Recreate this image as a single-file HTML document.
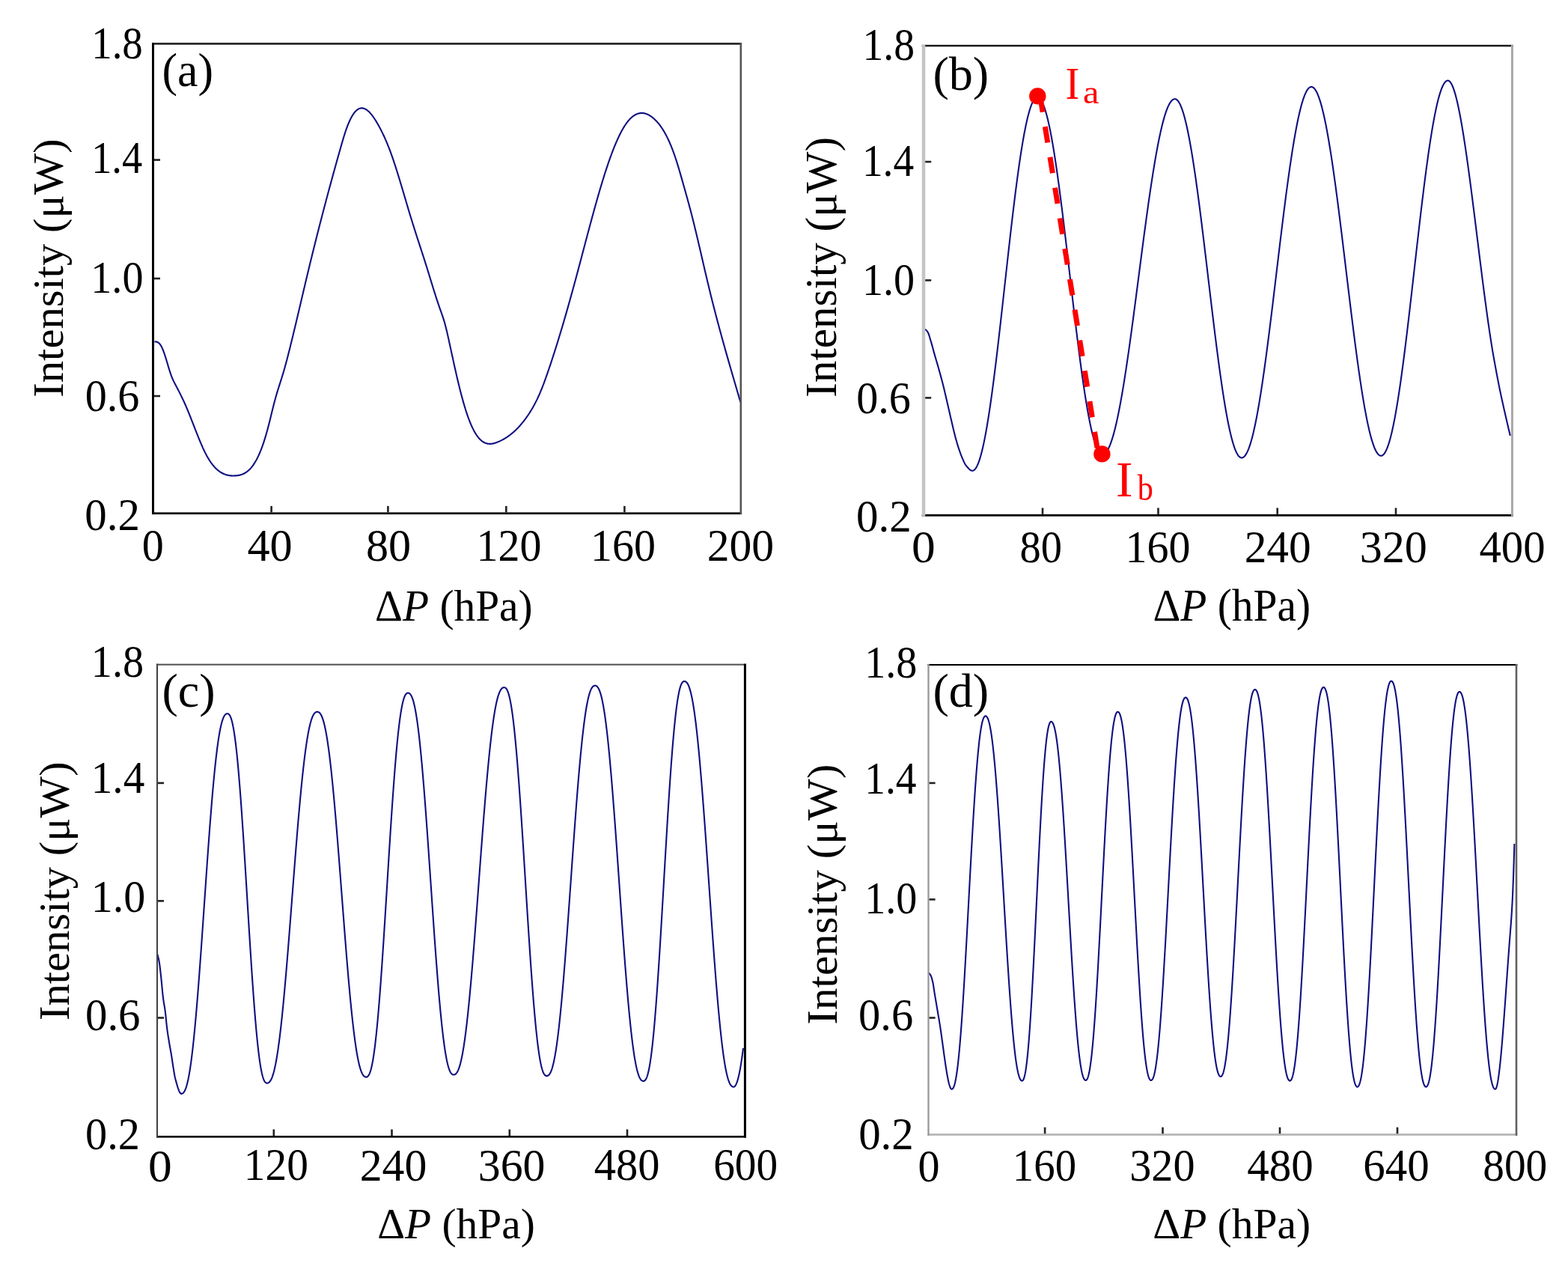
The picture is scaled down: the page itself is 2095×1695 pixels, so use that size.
<!DOCTYPE html>
<html><head><meta charset="utf-8"><title>Intensity vs pressure</title>
<style>html,body{margin:0;padding:0;background:#fff;}svg{display:block;}</style></head>
<body><svg xmlns="http://www.w3.org/2000/svg" width="2095" height="1695" viewBox="0 0 2095 1695">
<rect width="2095" height="1695" fill="#fff"/>
<g font-family="'Liberation Serif', 'Times New Roman', serif" fill="#000">
<text transform="translate(122.17,77.59) scale(0.9154,1.0125)" font-size="60">1.8</text>
<text transform="translate(122.16,231.44) scale(0.9072,1.0125)" font-size="60">1.4</text>
<text transform="translate(121.32,391.39) scale(0.9353,1.0125)" font-size="60">1.0</text>
<text transform="translate(113.66,549.19) scale(0.9690,1.0125)" font-size="60">0.6</text>
<text transform="translate(113.34,707.74) scale(0.9814,1.0125)" font-size="60">0.2</text>
<text transform="translate(189.66,748.59) scale(0.9692,1.0125)" font-size="60">0</text>
<text transform="translate(330.39,748.59) scale(1.0053,1.0125)" font-size="60">40</text>
<text transform="translate(488.99,748.59) scale(1.0036,1.0125)" font-size="60">80</text>
<text transform="translate(636.57,748.59) scale(0.9663,1.0125)" font-size="60">120</text>
<text transform="translate(788.97,748.59) scale(0.9663,1.0125)" font-size="60">160</text>
<text transform="translate(944.72,748.59) scale(0.9941,1.0125)" font-size="60">200</text>
<text transform="translate(216.4,114.73) scale(0.9662,1.0053)" font-size="64">(a)</text>
<text transform="translate(501.09,829) scale(0.9565,1.0000)" font-size="60">&#916;<tspan font-style="italic">P</tspan> (hPa)</text>
<text transform="translate(84.35,530.65) rotate(-90) scale(0.9759,0.9574)" font-size="60">Intensity (&#956;W)</text>
<text transform="translate(1152.46,79.99) scale(0.9279,1.0125)" font-size="60">1.8</text>
<text transform="translate(1151.88,234.94) scale(0.9232,1.0125)" font-size="60">1.4</text>
<text transform="translate(1151.92,393.94) scale(0.9353,1.0125)" font-size="60">1.0</text>
<text transform="translate(1144.26,552.19) scale(0.9690,1.0125)" font-size="60">0.6</text>
<text transform="translate(1144.03,710.49) scale(0.9829,1.0125)" font-size="60">0.2</text>
<text transform="translate(1217.98,751.34) scale(1.0577,1.0125)" font-size="60">0</text>
<text transform="translate(1362.62,751.34) scale(0.9411,1.0125)" font-size="60">80</text>
<text transform="translate(1503.47,751.24) scale(0.9663,1.0125)" font-size="60">160</text>
<text transform="translate(1662.63,751.24) scale(0.9894,1.0125)" font-size="60">240</text>
<text transform="translate(1816.69,751.49) scale(1.0024,1.0125)" font-size="60">320</text>
<text transform="translate(1976.42,751.49) scale(0.9793,1.0125)" font-size="60">400</text>
<text transform="translate(1246.39,119.82) scale(1.0029,0.9828)" font-size="64">(b)</text>
<text transform="translate(1540.39,829.46) scale(0.9569,1.0111)" font-size="60">&#916;<tspan font-style="italic">P</tspan> (hPa)</text>
<text transform="translate(1117.12,530.67) rotate(-90) scale(0.9834,0.9907)" font-size="60">Intensity (&#956;W)</text>
<text transform="translate(1423.48,132.4) scale(0.9118,1.0025)" font-size="62" fill="#f00">I</text>
<text transform="translate(1447,138.4) scale(1.0500,0.9636)" font-size="46" fill="#f00">a</text>
<text transform="translate(1491.02,662.5) scale(1.0882,1.0800)" font-size="62" fill="#f00">I</text>
<text transform="translate(1519.8,667.7) scale(0.9143,1.0424)" font-size="46" fill="#f00">b</text>
<text transform="translate(121.82,904.34) scale(0.9368,1.0125)" font-size="60">1.8</text>
<text transform="translate(121.73,1058.69) scale(0.9536,1.0125)" font-size="60">1.4</text>
<text transform="translate(121.66,1218.24) scale(0.9676,1.0125)" font-size="60">1.0</text>
<text transform="translate(114.04,1376.34) scale(0.9789,1.0125)" font-size="60">0.6</text>
<text transform="translate(114.06,1534.79) scale(0.9714,1.0125)" font-size="60">0.2</text>
<text transform="translate(197.88,1577.54) scale(1.0577,1.0125)" font-size="60">0</text>
<text transform="translate(325.82,1576.39) scale(0.9566,1.0125)" font-size="60">120</text>
<text transform="translate(480.71,1577.04) scale(0.9965,1.0125)" font-size="60">240</text>
<text transform="translate(638.81,1577.04) scale(0.9965,1.0125)" font-size="60">360</text>
<text transform="translate(793.72,1576.34) scale(0.9759,1.0125)" font-size="60">480</text>
<text transform="translate(953.19,1576.34) scale(0.9558,1.0125)" font-size="60">600</text>
<text transform="translate(216.4,944.16) scale(1.0015,0.9877)" font-size="64">(c)</text>
<text transform="translate(504.19,1654.46) scale(0.9565,0.9648)" font-size="60">&#916;<tspan font-style="italic">P</tspan> (hPa)</text>
<text transform="translate(92.45,1363.05) rotate(-90) scale(0.9768,0.9574)" font-size="60">Intensity (&#956;W)</text>
<text transform="translate(1155.22,905.34) scale(0.9368,1.0125)" font-size="60">1.8</text>
<text transform="translate(1155.28,1060.04) scale(0.9232,1.0125)" font-size="60">1.4</text>
<text transform="translate(1155.22,1219.64) scale(0.9368,1.0125)" font-size="60">1.0</text>
<text transform="translate(1147.05,1376.34) scale(0.9746,1.0125)" font-size="60">0.6</text>
<text transform="translate(1147.14,1534.79) scale(0.9814,1.0125)" font-size="60">0.2</text>
<text transform="translate(1226.56,1577.54) scale(0.9692,1.0125)" font-size="60">0</text>
<text transform="translate(1352.87,1577.14) scale(0.9470,1.0125)" font-size="60">160</text>
<text transform="translate(1509.19,1577.04) scale(0.9706,1.0125)" font-size="60">320</text>
<text transform="translate(1666.22,1577.04) scale(0.9828,1.0125)" font-size="60">480</text>
<text transform="translate(1821.23,1576.89) scale(0.9826,1.0125)" font-size="60">640</text>
<text transform="translate(1981.19,1576.89) scale(0.9570,1.0125)" font-size="60">800</text>
<text transform="translate(1246.39,944.22) scale(1.0029,0.9828)" font-size="64">(d)</text>
<text transform="translate(1540.18,1654.46) scale(0.9579,0.9648)" font-size="60">&#916;<tspan font-style="italic">P</tspan> (hPa)</text>
<text transform="translate(1117.78,1368.67) rotate(-90) scale(0.9840,0.9630)" font-size="60">Intensity (&#956;W)</text>
</g>
<g>
<path d="M206.5,456.6 207.0,456.5 207.5,456.5 208.0,456.4 208.5,456.4 209.0,456.5 209.5,456.6 210.0,456.8 210.5,457.0 211.0,457.3 211.5,457.6 212.0,458.0 212.5,458.4 213.0,458.9 213.5,459.5 214.0,460.2 214.5,460.9 215.0,461.7 215.5,462.6 216.0,463.5 216.5,464.5 217.0,465.6 217.5,466.8 218.0,468.0 218.5,469.3 219.0,470.7 219.5,472.1 220.0,473.5 220.5,475.1 221.0,476.6 221.5,478.2 222.0,479.8 222.5,481.5 223.0,483.2 223.5,484.8 224.0,486.5 224.5,488.2 225.0,489.9 225.5,491.6 226.0,493.2 226.5,494.8 227.0,496.4 227.5,497.9 228.0,499.4 228.5,500.8 229.0,502.2 229.5,503.5 230.0,504.7 230.5,505.9 231.0,507.0 231.5,508.1 232.0,509.1 232.5,510.1 233.0,511.1 233.5,512.1 234.0,513.1 234.5,514.0 235.0,514.9 235.5,515.9 236.0,516.8 236.5,517.8 237.0,518.7 237.5,519.7 238.0,520.7 238.5,521.6 239.0,522.6 239.5,523.6 240.0,524.6 240.5,525.6 241.0,526.5 241.5,527.6 242.0,528.6 242.5,529.6 243.0,530.6 243.5,531.7 244.0,532.7 244.5,533.8 245.0,534.8 245.5,535.9 246.0,537.0 246.5,538.1 247.0,539.2 247.5,540.3 248.0,541.5 248.5,542.6 249.0,543.8 249.5,545.0 250.0,546.2 250.5,547.4 251.0,548.6 251.5,549.8 252.0,551.0 252.5,552.2 253.0,553.5 253.5,554.7 254.0,556.0 254.5,557.2 255.0,558.5 255.5,559.8 256.0,561.0 256.5,562.3 257.0,563.6 257.5,564.9 258.0,566.2 258.5,567.5 259.0,568.7 259.5,570.0 260.0,571.3 260.5,572.6 261.0,573.9 261.5,575.1 262.0,576.4 262.5,577.7 263.0,578.9 263.5,580.2 264.0,581.5 264.5,582.7 265.0,583.9 265.5,585.2 266.0,586.4 266.5,587.6 267.0,588.8 267.5,590.0 268.0,591.2 268.5,592.4 269.0,593.5 269.5,594.7 270.0,595.8 270.5,596.9 271.0,598.1 271.5,599.2 272.0,600.2 272.5,601.3 273.0,602.3 273.5,603.4 274.0,604.4 274.5,605.4 275.0,606.4 275.5,607.3 276.0,608.2 276.5,609.2 277.0,610.1 277.5,610.9 278.0,611.8 278.5,612.6 279.0,613.4 279.5,614.3 280.0,615.0 280.5,615.8 281.0,616.5 281.5,617.3 282.0,618.0 282.5,618.7 283.0,619.4 283.5,620.0 284.0,620.7 284.5,621.3 285.0,621.9 285.5,622.5 286.0,623.1 286.5,623.6 287.0,624.2 287.5,624.7 288.0,625.2 288.5,625.7 289.0,626.2 289.5,626.6 290.0,627.1 290.5,627.5 291.0,628.0 291.5,628.4 292.0,628.8 292.5,629.2 293.0,629.5 293.5,629.9 294.0,630.2 294.5,630.6 295.0,630.9 295.5,631.2 296.0,631.5 296.5,631.8 297.0,632.0 297.5,632.3 298.0,632.5 298.5,632.8 299.0,633.0 299.5,633.2 300.0,633.4 300.5,633.6 301.0,633.8 301.5,633.9 302.0,634.1 302.5,634.3 303.0,634.4 303.5,634.5 304.0,634.6 304.5,634.8 305.0,634.9 305.5,635.0 306.0,635.0 306.5,635.1 307.0,635.2 307.5,635.3 308.0,635.3 308.5,635.4 309.0,635.4 309.5,635.4 310.0,635.5 310.5,635.5 311.0,635.5 311.5,635.5 312.0,635.5 312.5,635.5 313.0,635.5 313.5,635.4 314.0,635.4 314.5,635.4 315.0,635.4 315.5,635.3 316.0,635.3 316.5,635.2 317.0,635.2 317.5,635.1 318.0,635.0 318.5,634.9 319.0,634.9 319.5,634.8 320.0,634.7 320.5,634.5 321.0,634.4 321.5,634.3 322.0,634.1 322.5,634.0 323.0,633.8 323.5,633.6 324.0,633.4 324.5,633.2 325.0,633.0 325.5,632.8 326.0,632.5 326.5,632.3 327.0,632.0 327.5,631.7 328.0,631.4 328.5,631.1 329.0,630.7 329.5,630.4 330.0,630.0 330.5,629.6 331.0,629.2 331.5,628.8 332.0,628.4 332.5,627.9 333.0,627.4 333.5,627.0 334.0,626.4 334.5,625.9 335.0,625.4 335.5,624.8 336.0,624.2 336.5,623.6 337.0,622.9 337.5,622.3 338.0,621.6 338.5,620.9 339.0,620.2 339.5,619.4 340.0,618.6 340.5,617.8 341.0,617.0 341.5,616.1 342.0,615.3 342.5,614.4 343.0,613.4 343.5,612.5 344.0,611.5 344.5,610.5 345.0,609.4 345.5,608.4 346.0,607.3 346.5,606.2 347.0,605.0 347.5,603.8 348.0,602.6 348.5,601.4 349.0,600.1 349.5,598.8 350.0,597.4 350.5,596.1 351.0,594.7 351.5,593.2 352.0,591.8 352.5,590.3 353.0,588.7 353.5,587.2 354.0,585.6 354.5,583.9 355.0,582.3 355.5,580.6 356.0,578.8 356.5,577.1 357.0,575.3 357.5,573.4 358.0,571.5 358.5,569.6 359.0,567.7 359.5,565.7 360.0,563.7 360.5,561.7 361.0,559.7 361.5,557.7 362.0,555.7 362.5,553.6 363.0,551.6 363.5,549.5 364.0,547.5 364.5,545.5 365.0,543.5 365.5,541.5 366.0,539.6 366.5,537.6 367.0,535.7 367.5,533.9 368.0,532.0 368.5,530.3 369.0,528.5 369.5,526.8 370.0,525.1 370.5,523.4 371.0,521.8 371.5,520.2 372.0,518.6 372.5,517.0 373.0,515.4 373.5,513.9 374.0,512.3 374.5,510.7 375.0,509.2 375.5,507.6 376.0,506.0 376.5,504.5 377.0,502.8 377.5,501.2 378.0,499.6 378.5,497.9 379.0,496.2 379.5,494.5 380.0,492.7 380.5,491.0 381.0,489.2 381.5,487.3 382.0,485.5 382.5,483.6 383.0,481.8 383.5,479.9 384.0,478.0 384.5,476.0 385.0,474.1 385.5,472.1 386.0,470.1 386.5,468.2 387.0,466.2 387.5,464.2 388.0,462.2 388.5,460.1 389.0,458.1 389.5,456.1 390.0,454.0 390.5,452.0 391.0,449.9 391.5,447.9 392.0,445.8 392.5,443.7 393.0,441.6 393.5,439.5 394.0,437.5 394.5,435.4 395.0,433.3 395.5,431.2 396.0,429.1 396.5,427.0 397.0,424.8 397.5,422.7 398.0,420.6 398.5,418.5 399.0,416.4 399.5,414.2 400.0,412.1 400.5,410.0 401.0,407.9 401.5,405.7 402.0,403.6 402.5,401.5 403.0,399.3 403.5,397.2 404.0,395.1 404.5,393.0 405.0,390.8 405.5,388.7 406.0,386.6 406.5,384.5 407.0,382.4 407.5,380.2 408.0,378.1 408.5,376.0 409.0,373.9 409.5,371.8 410.0,369.7 410.5,367.6 411.0,365.5 411.5,363.4 412.0,361.4 412.5,359.3 413.0,357.2 413.5,355.2 414.0,353.1 414.5,351.0 415.0,349.0 415.5,346.9 416.0,344.9 416.5,342.9 417.0,340.8 417.5,338.8 418.0,336.8 418.5,334.7 419.0,332.7 419.5,330.7 420.0,328.7 420.5,326.7 421.0,324.7 421.5,322.7 422.0,320.7 422.5,318.7 423.0,316.8 423.5,314.8 424.0,312.8 424.5,310.8 425.0,308.9 425.5,306.9 426.0,305.0 426.5,303.0 427.0,301.1 427.5,299.1 428.0,297.2 428.5,295.2 429.0,293.3 429.5,291.4 430.0,289.4 430.5,287.5 431.0,285.6 431.5,283.7 432.0,281.8 432.5,279.9 433.0,278.0 433.5,276.1 434.0,274.2 434.5,272.3 435.0,270.4 435.5,268.5 436.0,266.6 436.5,264.8 437.0,262.9 437.5,261.0 438.0,259.2 438.5,257.3 439.0,255.4 439.5,253.6 440.0,251.7 440.5,249.9 441.0,248.0 441.5,246.2 442.0,244.4 442.5,242.5 443.0,240.7 443.5,238.9 444.0,237.1 444.5,235.2 445.0,233.4 445.5,231.6 446.0,229.8 446.5,228.0 447.0,226.2 447.5,224.4 448.0,222.6 448.5,220.8 449.0,219.0 449.5,217.2 450.0,215.4 450.5,213.6 451.0,211.8 451.5,210.1 452.0,208.3 452.5,206.5 453.0,204.7 453.5,203.0 454.0,201.2 454.5,199.5 455.0,197.7 455.5,195.9 456.0,194.2 456.5,192.4 457.0,190.7 457.5,189.0 458.0,187.3 458.5,185.6 459.0,183.9 459.5,182.3 460.0,180.7 460.5,179.1 461.0,177.5 461.5,176.0 462.0,174.5 462.5,173.1 463.0,171.7 463.5,170.3 464.0,169.0 464.5,167.7 465.0,166.4 465.5,165.2 466.0,164.0 466.5,162.9 467.0,161.8 467.5,160.7 468.0,159.6 468.5,158.6 469.0,157.6 469.5,156.7 470.0,155.8 470.5,154.9 471.0,154.1 471.5,153.3 472.0,152.5 472.5,151.8 473.0,151.1 473.5,150.5 474.0,149.8 474.5,149.3 475.0,148.7 475.5,148.2 476.0,147.7 476.5,147.3 477.0,146.8 477.5,146.5 478.0,146.1 478.5,145.8 479.0,145.5 479.5,145.3 480.0,145.1 480.5,144.9 481.0,144.7 481.5,144.6 482.0,144.5 482.5,144.5 483.0,144.4 483.5,144.4 484.0,144.4 484.5,144.5 485.0,144.6 485.5,144.7 486.0,144.8 486.5,145.0 487.0,145.2 487.5,145.4 488.0,145.6 488.5,145.9 489.0,146.2 489.5,146.5 490.0,146.8 490.5,147.2 491.0,147.6 491.5,148.0 492.0,148.4 492.5,148.8 493.0,149.3 493.5,149.8 494.0,150.3 494.5,150.9 495.0,151.4 495.5,152.0 496.0,152.6 496.5,153.2 497.0,153.8 497.5,154.5 498.0,155.2 498.5,155.8 499.0,156.5 499.5,157.3 500.0,158.0 500.5,158.8 501.0,159.5 501.5,160.3 502.0,161.1 502.5,161.9 503.0,162.7 503.5,163.6 504.0,164.4 504.5,165.3 505.0,166.2 505.5,167.1 506.0,168.0 506.5,168.9 507.0,169.8 507.5,170.7 508.0,171.7 508.5,172.6 509.0,173.6 509.5,174.6 510.0,175.6 510.5,176.6 511.0,177.6 511.5,178.6 512.0,179.7 512.5,180.7 513.0,181.8 513.5,182.9 514.0,184.0 514.5,185.1 515.0,186.2 515.5,187.4 516.0,188.5 516.5,189.7 517.0,190.9 517.5,192.1 518.0,193.3 518.5,194.6 519.0,195.8 519.5,197.1 520.0,198.4 520.5,199.7 521.0,201.0 521.5,202.3 522.0,203.7 522.5,205.1 523.0,206.5 523.5,207.9 524.0,209.3 524.5,210.7 525.0,212.2 525.5,213.7 526.0,215.1 526.5,216.6 527.0,218.2 527.5,219.7 528.0,221.2 528.5,222.8 529.0,224.3 529.5,225.9 530.0,227.5 530.5,229.0 531.0,230.6 531.5,232.2 532.0,233.9 532.5,235.5 533.0,237.1 533.5,238.8 534.0,240.4 534.5,242.0 535.0,243.7 535.5,245.4 536.0,247.0 536.5,248.7 537.0,250.4 537.5,252.1 538.0,253.7 538.5,255.4 539.0,257.1 539.5,258.8 540.0,260.5 540.5,262.2 541.0,263.9 541.5,265.6 542.0,267.3 542.5,269.0 543.0,270.7 543.5,272.3 544.0,274.0 544.5,275.7 545.0,277.4 545.5,279.1 546.0,280.7 546.5,282.4 547.0,284.1 547.5,285.7 548.0,287.4 548.5,289.0 549.0,290.7 549.5,292.3 550.0,293.9 550.5,295.5 551.0,297.2 551.5,298.8 552.0,300.4 552.5,301.9 553.0,303.5 553.5,305.1 554.0,306.7 554.5,308.2 555.0,309.8 555.5,311.4 556.0,312.9 556.5,314.5 557.0,316.0 557.5,317.6 558.0,319.1 558.5,320.6 559.0,322.2 559.5,323.7 560.0,325.2 560.5,326.8 561.0,328.3 561.5,329.9 562.0,331.4 562.5,332.9 563.0,334.5 563.5,336.0 564.0,337.5 564.5,339.1 565.0,340.6 565.5,342.2 566.0,343.7 566.5,345.3 567.0,346.8 567.5,348.4 568.0,350.0 568.5,351.6 569.0,353.1 569.5,354.7 570.0,356.3 570.5,357.9 571.0,359.5 571.5,361.1 572.0,362.7 572.5,364.4 573.0,366.0 573.5,367.6 574.0,369.2 574.5,370.9 575.0,372.5 575.5,374.1 576.0,375.8 576.5,377.4 577.0,379.0 577.5,380.6 578.0,382.3 578.5,383.9 579.0,385.5 579.5,387.1 580.0,388.7 580.5,390.3 581.0,391.9 581.5,393.4 582.0,395.0 582.5,396.6 583.0,398.1 583.5,399.7 584.0,401.2 584.5,402.7 585.0,404.2 585.5,405.7 586.0,407.2 586.5,408.6 587.0,410.1 587.5,411.5 588.0,412.9 588.5,414.3 589.0,415.7 589.5,417.1 590.0,418.5 590.5,419.9 591.0,421.3 591.5,422.8 592.0,424.3 592.5,425.8 593.0,427.4 593.5,429.1 594.0,430.8 594.5,432.6 595.0,434.5 595.5,436.4 596.0,438.4 596.5,440.5 597.0,442.6 597.5,444.7 598.0,446.9 598.5,449.1 599.0,451.4 599.5,453.6 600.0,455.9 600.5,458.2 601.0,460.5 601.5,462.8 602.0,465.1 602.5,467.4 603.0,469.7 603.5,472.0 604.0,474.3 604.5,476.5 605.0,478.8 605.5,481.1 606.0,483.4 606.5,485.7 607.0,487.9 607.5,490.2 608.0,492.4 608.5,494.6 609.0,496.9 609.5,499.0 610.0,501.2 610.5,503.4 611.0,505.5 611.5,507.7 612.0,509.8 612.5,511.8 613.0,513.9 613.5,515.9 614.0,518.0 614.5,520.0 615.0,521.9 615.5,523.9 616.0,525.8 616.5,527.7 617.0,529.6 617.5,531.4 618.0,533.3 618.5,535.1 619.0,536.9 619.5,538.6 620.0,540.3 620.5,542.0 621.0,543.7 621.5,545.3 622.0,547.0 622.5,548.5 623.0,550.1 623.5,551.6 624.0,553.1 624.5,554.6 625.0,556.0 625.5,557.4 626.0,558.8 626.5,560.1 627.0,561.4 627.5,562.7 628.0,564.0 628.5,565.2 629.0,566.4 629.5,567.5 630.0,568.7 630.5,569.8 631.0,570.8 631.5,571.9 632.0,572.9 632.5,573.9 633.0,574.9 633.5,575.8 634.0,576.7 634.5,577.6 635.0,578.4 635.5,579.2 636.0,580.0 636.5,580.8 637.0,581.5 637.5,582.2 638.0,582.9 638.5,583.6 639.0,584.2 639.5,584.8 640.0,585.4 640.5,586.0 641.0,586.5 641.5,587.0 642.0,587.5 642.5,587.9 643.0,588.4 643.5,588.8 644.0,589.2 644.5,589.6 645.0,589.9 645.5,590.2 646.0,590.5 646.5,590.8 647.0,591.1 647.5,591.3 648.0,591.5 648.5,591.8 649.0,591.9 649.5,592.1 650.0,592.3 650.5,592.4 651.0,592.5 651.5,592.6 652.0,592.7 652.5,592.8 653.0,592.8 653.5,592.8 654.0,592.9 654.5,592.9 655.0,592.9 655.5,592.9 656.0,592.8 656.5,592.8 657.0,592.7 657.5,592.6 658.0,592.6 658.5,592.5 659.0,592.4 659.5,592.3 660.0,592.1 660.5,592.0 661.0,591.9 661.5,591.7 662.0,591.5 662.5,591.4 663.0,591.2 663.5,591.0 664.0,590.8 664.5,590.6 665.0,590.4 665.5,590.2 666.0,590.0 666.5,589.8 667.0,589.6 667.5,589.4 668.0,589.1 668.5,588.9 669.0,588.6 669.5,588.4 670.0,588.1 670.5,587.9 671.0,587.6 671.5,587.4 672.0,587.1 672.5,586.8 673.0,586.5 673.5,586.2 674.0,586.0 674.5,585.7 675.0,585.4 675.5,585.0 676.0,584.7 676.5,584.4 677.0,584.1 677.5,583.8 678.0,583.4 678.5,583.1 679.0,582.7 679.5,582.4 680.0,582.0 680.5,581.6 681.0,581.3 681.5,580.9 682.0,580.5 682.5,580.1 683.0,579.7 683.5,579.3 684.0,578.9 684.5,578.5 685.0,578.1 685.5,577.6 686.0,577.2 686.5,576.8 687.0,576.3 687.5,575.9 688.0,575.4 688.5,574.9 689.0,574.4 689.5,574.0 690.0,573.5 690.5,573.0 691.0,572.5 691.5,572.0 692.0,571.4 692.5,570.9 693.0,570.4 693.5,569.8 694.0,569.3 694.5,568.7 695.0,568.2 695.5,567.6 696.0,567.0 696.5,566.4 697.0,565.8 697.5,565.2 698.0,564.6 698.5,564.0 699.0,563.4 699.5,562.8 700.0,562.1 700.5,561.5 701.0,560.8 701.5,560.2 702.0,559.5 702.5,558.8 703.0,558.1 703.5,557.4 704.0,556.7 704.5,556.0 705.0,555.3 705.5,554.5 706.0,553.8 706.5,553.0 707.0,552.3 707.5,551.5 708.0,550.7 708.5,549.9 709.0,549.1 709.5,548.3 710.0,547.5 710.5,546.7 711.0,545.8 711.5,545.0 712.0,544.1 712.5,543.2 713.0,542.3 713.5,541.4 714.0,540.5 714.5,539.5 715.0,538.6 715.5,537.6 716.0,536.6 716.5,535.6 717.0,534.6 717.5,533.6 718.0,532.6 718.5,531.5 719.0,530.4 719.5,529.3 720.0,528.2 720.5,527.1 721.0,526.0 721.5,524.8 722.0,523.6 722.5,522.4 723.0,521.2 723.5,520.0 724.0,518.7 724.5,517.5 725.0,516.2 725.5,514.9 726.0,513.6 726.5,512.3 727.0,510.9 727.5,509.6 728.0,508.2 728.5,506.8 729.0,505.4 729.5,504.0 730.0,502.6 730.5,501.2 731.0,499.8 731.5,498.3 732.0,496.9 732.5,495.4 733.0,494.0 733.5,492.5 734.0,491.0 734.5,489.6 735.0,488.1 735.5,486.6 736.0,485.1 736.5,483.6 737.0,482.1 737.5,480.5 738.0,479.0 738.5,477.5 739.0,475.9 739.5,474.4 740.0,472.8 740.5,471.3 741.0,469.7 741.5,468.2 742.0,466.6 742.5,465.0 743.0,463.4 743.5,461.8 744.0,460.2 744.5,458.6 745.0,457.0 745.5,455.4 746.0,453.8 746.5,452.1 747.0,450.5 747.5,448.8 748.0,447.2 748.5,445.5 749.0,443.9 749.5,442.2 750.0,440.6 750.5,438.9 751.0,437.2 751.5,435.5 752.0,433.8 752.5,432.1 753.0,430.4 753.5,428.7 754.0,427.0 754.5,425.3 755.0,423.6 755.5,421.8 756.0,420.1 756.5,418.4 757.0,416.6 757.5,414.9 758.0,413.1 758.5,411.4 759.0,409.6 759.5,407.8 760.0,406.1 760.5,404.3 761.0,402.5 761.5,400.7 762.0,398.9 762.5,397.1 763.0,395.3 763.5,393.5 764.0,391.7 764.5,389.9 765.0,388.1 765.5,386.3 766.0,384.5 766.5,382.6 767.0,380.8 767.5,379.0 768.0,377.1 768.5,375.3 769.0,373.4 769.5,371.6 770.0,369.7 770.5,367.8 771.0,366.0 771.5,364.1 772.0,362.2 772.5,360.4 773.0,358.5 773.5,356.6 774.0,354.7 774.5,352.9 775.0,351.0 775.5,349.1 776.0,347.2 776.5,345.3 777.0,343.4 777.5,341.5 778.0,339.6 778.5,337.7 779.0,335.9 779.5,334.0 780.0,332.1 780.5,330.2 781.0,328.3 781.5,326.4 782.0,324.5 782.5,322.6 783.0,320.7 783.5,318.8 784.0,317.0 784.5,315.1 785.0,313.2 785.5,311.3 786.0,309.4 786.5,307.6 787.0,305.7 787.5,303.8 788.0,302.0 788.5,300.1 789.0,298.3 789.5,296.4 790.0,294.6 790.5,292.7 791.0,290.9 791.5,289.0 792.0,287.2 792.5,285.4 793.0,283.6 793.5,281.7 794.0,279.9 794.5,278.1 795.0,276.3 795.5,274.5 796.0,272.8 796.5,271.0 797.0,269.2 797.5,267.4 798.0,265.7 798.5,263.9 799.0,262.2 799.5,260.4 800.0,258.7 800.5,257.0 801.0,255.3 801.5,253.6 802.0,251.9 802.5,250.2 803.0,248.5 803.5,246.9 804.0,245.2 804.5,243.6 805.0,241.9 805.5,240.3 806.0,238.7 806.5,237.1 807.0,235.5 807.5,233.9 808.0,232.3 808.5,230.7 809.0,229.2 809.5,227.6 810.0,226.1 810.5,224.6 811.0,223.1 811.5,221.6 812.0,220.1 812.5,218.6 813.0,217.2 813.5,215.7 814.0,214.3 814.5,212.9 815.0,211.5 815.5,210.1 816.0,208.7 816.5,207.4 817.0,206.0 817.5,204.7 818.0,203.3 818.5,202.0 819.0,200.7 819.5,199.5 820.0,198.2 820.5,196.9 821.0,195.7 821.5,194.5 822.0,193.3 822.5,192.1 823.0,190.9 823.5,189.7 824.0,188.6 824.5,187.5 825.0,186.3 825.5,185.2 826.0,184.2 826.5,183.1 827.0,182.0 827.5,181.0 828.0,180.0 828.5,179.0 829.0,178.0 829.5,177.0 830.0,176.1 830.5,175.1 831.0,174.2 831.5,173.3 832.0,172.4 832.5,171.6 833.0,170.7 833.5,169.9 834.0,169.1 834.5,168.3 835.0,167.5 835.5,166.8 836.0,166.0 836.5,165.3 837.0,164.6 837.5,163.9 838.0,163.3 838.5,162.6 839.0,162.0 839.5,161.4 840.0,160.8 840.5,160.2 841.0,159.7 841.5,159.1 842.0,158.6 842.5,158.1 843.0,157.6 843.5,157.2 844.0,156.7 844.5,156.3 845.0,155.9 845.5,155.5 846.0,155.1 846.5,154.8 847.0,154.4 847.5,154.1 848.0,153.8 848.5,153.5 849.0,153.2 849.5,153.0 850.0,152.7 850.5,152.5 851.0,152.3 851.5,152.1 852.0,151.9 852.5,151.7 853.0,151.6 853.5,151.5 854.0,151.4 854.5,151.3 855.0,151.2 855.5,151.1 856.0,151.1 856.5,151.0 857.0,151.0 857.5,151.0 858.0,151.0 858.5,151.0 859.0,151.1 859.5,151.1 860.0,151.2 860.5,151.3 861.0,151.4 861.5,151.5 862.0,151.6 862.5,151.8 863.0,151.9 863.5,152.1 864.0,152.3 864.5,152.5 865.0,152.7 865.5,152.9 866.0,153.2 866.5,153.4 867.0,153.7 867.5,154.0 868.0,154.3 868.5,154.6 869.0,154.9 869.5,155.2 870.0,155.6 870.5,155.9 871.0,156.3 871.5,156.7 872.0,157.1 872.5,157.5 873.0,157.9 873.5,158.3 874.0,158.8 874.5,159.2 875.0,159.7 875.5,160.2 876.0,160.7 876.5,161.2 877.0,161.7 877.5,162.2 878.0,162.8 878.5,163.4 879.0,163.9 879.5,164.5 880.0,165.1 880.5,165.7 881.0,166.4 881.5,167.0 882.0,167.7 882.5,168.4 883.0,169.1 883.5,169.8 884.0,170.5 884.5,171.3 885.0,172.0 885.5,172.8 886.0,173.6 886.5,174.4 887.0,175.3 887.5,176.1 888.0,177.0 888.5,177.9 889.0,178.8 889.5,179.7 890.0,180.6 890.5,181.6 891.0,182.6 891.5,183.6 892.0,184.6 892.5,185.6 893.0,186.7 893.5,187.8 894.0,188.9 894.5,190.0 895.0,191.1 895.5,192.3 896.0,193.5 896.5,194.7 897.0,195.9 897.5,197.2 898.0,198.5 898.5,199.7 899.0,201.1 899.5,202.4 900.0,203.8 900.5,205.2 901.0,206.6 901.5,208.0 902.0,209.5 902.5,211.0 903.0,212.5 903.5,214.0 904.0,215.6 904.5,217.1 905.0,218.7 905.5,220.4 906.0,222.0 906.5,223.6 907.0,225.3 907.5,227.0 908.0,228.7 908.5,230.4 909.0,232.1 909.5,233.9 910.0,235.6 910.5,237.4 911.0,239.1 911.5,240.9 912.0,242.6 912.5,244.4 913.0,246.2 913.5,248.0 914.0,249.8 914.5,251.5 915.0,253.3 915.5,255.1 916.0,256.9 916.5,258.7 917.0,260.4 917.5,262.2 918.0,264.0 918.5,265.8 919.0,267.7 919.5,269.5 920.0,271.3 920.5,273.1 921.0,275.0 921.5,276.9 922.0,278.7 922.5,280.6 923.0,282.5 923.5,284.4 924.0,286.3 924.5,288.3 925.0,290.3 925.5,292.2 926.0,294.2 926.5,296.2 927.0,298.2 927.5,300.3 928.0,302.3 928.5,304.4 929.0,306.4 929.5,308.5 930.0,310.6 930.5,312.7 931.0,314.8 931.5,316.9 932.0,319.0 932.5,321.1 933.0,323.3 933.5,325.4 934.0,327.5 934.5,329.7 935.0,331.8 935.5,334.0 936.0,336.1 936.5,338.3 937.0,340.5 937.5,342.6 938.0,344.8 938.5,347.0 939.0,349.1 939.5,351.3 940.0,353.4 940.5,355.6 941.0,357.7 941.5,359.9 942.0,362.0 942.5,364.2 943.0,366.3 943.5,368.5 944.0,370.6 944.5,372.7 945.0,374.8 945.5,376.9 946.0,379.0 946.5,381.1 947.0,383.1 947.5,385.2 948.0,387.3 948.5,389.3 949.0,391.3 949.5,393.4 950.0,395.4 950.5,397.4 951.0,399.4 951.5,401.4 952.0,403.4 952.5,405.4 953.0,407.3 953.5,409.3 954.0,411.2 954.5,413.2 955.0,415.1 955.5,417.0 956.0,419.0 956.5,420.9 957.0,422.8 957.5,424.7 958.0,426.6 958.5,428.5 959.0,430.4 959.5,432.2 960.0,434.1 960.5,436.0 961.0,437.8 961.5,439.7 962.0,441.5 962.5,443.3 963.0,445.2 963.5,447.0 964.0,448.8 964.5,450.6 965.0,452.5 965.5,454.3 966.0,456.1 966.5,457.9 967.0,459.7 967.5,461.4 968.0,463.2 968.5,465.0 969.0,466.8 969.5,468.6 970.0,470.3 970.5,472.1 971.0,473.9 971.5,475.6 972.0,477.4 972.5,479.1 973.0,480.9 973.5,482.6 974.0,484.4 974.5,486.1 975.0,487.8 975.5,489.6 976.0,491.3 976.5,493.0 977.0,494.8 977.5,496.5 978.0,498.2 978.5,499.9 979.0,501.7 979.5,503.4 980.0,505.1 980.5,506.8 981.0,508.5 981.5,510.3 982.0,512.0 982.5,513.7 983.0,515.4 983.5,517.1 984.0,518.8 984.5,520.5 985.0,522.3 985.5,524.0 986.0,525.7 986.5,527.4 987.0,529.1 987.5,530.8 988.0,532.6 988.5,534.3 989.0,536.0 989.4,537.3" fill="none" stroke="#0f0f80" stroke-width="2.1" stroke-linejoin="round"/>
<path d="M1235.5,440.0 1236.0,440.1 1236.5,440.3 1237.0,440.6 1237.5,441.1 1238.0,441.6 1238.5,442.2 1239.0,442.8 1239.5,443.5 1240.0,444.3 1240.5,445.5 1241.0,446.8 1241.5,448.3 1242.0,450.0 1242.5,451.7 1243.0,453.4 1243.5,455.0 1244.0,456.6 1244.5,458.3 1245.0,460.1 1245.5,461.9 1246.0,463.7 1246.5,465.6 1247.0,467.4 1247.5,469.3 1248.0,471.1 1248.5,472.9 1249.0,474.7 1249.5,476.4 1250.0,478.1 1250.5,479.8 1251.0,481.5 1251.5,483.2 1252.0,484.9 1252.5,486.6 1253.0,488.3 1253.5,490.0 1254.0,491.8 1254.5,493.6 1255.0,495.4 1255.5,497.1 1256.0,499.0 1256.5,500.8 1257.0,502.6 1257.5,504.4 1258.0,506.3 1258.5,508.2 1259.0,510.1 1259.5,512.0 1260.0,514.0 1260.5,516.0 1261.0,518.0 1261.5,520.1 1262.0,522.2 1262.5,524.3 1263.0,526.5 1263.5,528.6 1264.0,530.8 1264.5,532.9 1265.0,535.1 1265.5,537.2 1266.0,539.4 1266.5,541.6 1267.0,543.8 1267.5,545.9 1268.0,548.1 1268.5,550.3 1269.0,552.5 1269.5,554.7 1270.0,556.9 1270.5,559.0 1271.0,561.1 1271.5,563.3 1272.0,565.5 1272.5,567.6 1273.0,569.8 1273.5,571.9 1274.0,574.0 1274.5,576.1 1275.0,578.1 1275.5,580.1 1276.0,582.0 1276.5,583.9 1277.0,585.7 1277.5,587.5 1278.0,589.3 1278.5,591.0 1279.0,592.7 1279.5,594.4 1280.0,596.0 1280.5,597.6 1281.0,599.1 1281.5,600.6 1282.0,602.1 1282.5,603.5 1283.0,604.9 1283.5,606.3 1284.0,607.6 1284.5,608.9 1285.0,610.1 1285.5,611.3 1286.0,612.5 1286.5,613.6 1287.0,614.8 1287.5,615.9 1288.0,617.1 1288.5,618.1 1289.0,619.1 1289.5,620.0 1290.0,620.8 1290.5,621.5 1291.0,622.1 1291.5,622.7 1292.0,623.3 1292.5,623.9 1293.0,624.5 1293.5,625.1 1294.0,625.6 1294.5,626.2 1295.0,626.6 1295.5,627.1 1296.0,627.5 1296.5,627.8 1297.0,628.1 1297.5,628.4 1298.0,628.6 1298.5,628.7 1299.0,628.8 1299.2,628.8 1299.7,628.8 1300.2,628.6 1300.7,628.4 1301.2,628.1 1301.7,627.8 1302.2,627.3 1302.7,626.8 1303.2,626.2 1303.7,625.5 1304.2,624.7 1304.7,623.9 1305.2,622.9 1305.7,621.9 1306.2,620.8 1306.7,619.7 1307.2,618.4 1307.7,617.1 1308.2,615.7 1308.7,614.2 1309.2,612.6 1309.7,611.0 1310.2,609.3 1310.7,607.5 1311.2,605.6 1311.7,603.7 1312.2,601.7 1312.7,599.6 1313.2,597.5 1313.7,595.2 1314.2,592.9 1314.7,590.6 1315.2,588.1 1315.7,585.6 1316.2,583.1 1316.7,580.4 1317.2,577.7 1317.7,575.0 1318.2,572.1 1318.7,569.2 1319.2,566.3 1319.7,563.2 1320.2,560.2 1320.7,557.0 1321.2,553.8 1321.7,550.6 1322.2,547.3 1322.7,543.9 1323.2,540.5 1323.7,537.0 1324.2,533.5 1324.7,529.9 1325.2,526.3 1325.7,522.6 1326.2,518.9 1326.7,515.1 1327.2,511.3 1327.7,507.5 1328.2,503.6 1328.7,499.6 1329.2,495.7 1329.7,491.7 1330.2,487.6 1330.7,483.5 1331.2,479.4 1331.7,475.3 1332.2,471.1 1332.7,466.9 1333.2,462.6 1333.7,458.4 1334.2,454.1 1334.7,449.7 1335.2,445.4 1335.7,441.0 1336.2,436.7 1336.7,432.3 1337.2,427.8 1337.7,423.4 1338.2,418.9 1338.7,414.5 1339.2,410.0 1339.7,405.5 1340.2,401.0 1340.7,396.5 1341.2,392.0 1341.7,387.5 1342.2,383.0 1342.7,378.5 1343.2,374.0 1343.7,369.5 1344.2,365.0 1344.7,360.5 1345.2,356.0 1345.7,351.5 1346.2,347.0 1346.7,342.5 1347.2,338.1 1347.7,333.6 1348.2,329.2 1348.7,324.8 1349.2,320.4 1349.7,316.0 1350.2,311.7 1350.7,307.3 1351.2,303.0 1351.7,298.7 1352.2,294.5 1352.7,290.2 1353.2,286.0 1353.7,281.9 1354.2,277.7 1354.7,273.6 1355.2,269.6 1355.7,265.5 1356.2,261.5 1356.7,257.6 1357.2,253.7 1357.7,249.8 1358.2,245.9 1358.7,242.2 1359.2,238.4 1359.7,234.7 1360.2,231.1 1360.7,227.5 1361.2,223.9 1361.7,220.4 1362.2,216.9 1362.7,213.5 1363.2,210.2 1363.7,206.9 1364.2,203.7 1364.7,200.5 1365.2,197.4 1365.7,194.3 1366.2,191.3 1366.7,188.4 1367.2,185.5 1367.7,182.7 1368.2,180.0 1368.7,177.3 1369.2,174.7 1369.7,172.2 1370.2,169.7 1370.7,167.3 1371.2,164.9 1371.7,162.7 1372.2,160.5 1372.7,158.3 1373.2,156.3 1373.7,154.3 1374.2,152.4 1374.7,150.6 1375.2,148.8 1375.7,147.1 1376.2,145.5 1376.7,144.0 1377.2,142.5 1377.7,141.2 1378.2,139.9 1378.7,138.7 1379.2,137.5 1379.7,136.5 1380.2,135.5 1380.7,134.6 1381.2,133.8 1381.7,133.0 1382.2,132.4 1382.7,131.8 1383.2,131.3 1383.7,130.9 1384.2,130.5 1384.7,130.3 1385.2,130.1 1385.7,130.0 1386.0,130.0 1386.5,130.0 1387.0,130.2 1387.5,130.3 1388.0,130.6 1388.5,131.0 1389.0,131.4 1389.5,131.9 1390.0,132.5 1390.5,133.1 1391.0,133.9 1391.5,134.7 1392.0,135.6 1392.5,136.5 1393.0,137.6 1393.5,138.7 1394.0,139.9 1394.5,141.1 1395.0,142.5 1395.5,143.9 1396.0,145.4 1396.5,146.9 1397.0,148.6 1397.5,150.3 1398.0,152.0 1398.5,153.9 1399.0,155.8 1399.5,157.8 1400.0,159.8 1400.5,162.0 1401.0,164.1 1401.5,166.4 1402.0,168.7 1402.5,171.1 1403.0,173.5 1403.5,176.1 1404.0,178.6 1404.5,181.3 1405.0,184.0 1405.5,186.7 1406.0,189.5 1406.5,192.4 1407.0,195.4 1407.5,198.3 1408.0,201.4 1408.5,204.5 1409.0,207.6 1409.5,210.8 1410.0,214.1 1410.5,217.4 1411.0,220.8 1411.5,224.2 1412.0,227.6 1412.5,231.1 1413.0,234.7 1413.5,238.2 1414.0,241.9 1414.5,245.5 1415.0,249.2 1415.5,253.0 1416.0,256.8 1416.5,260.6 1417.0,264.5 1417.5,268.4 1418.0,272.3 1418.5,276.2 1419.0,280.2 1419.5,284.2 1420.0,288.3 1420.5,292.3 1421.0,296.4 1421.5,300.6 1422.0,304.7 1422.5,308.9 1423.0,313.0 1423.5,317.2 1424.0,321.4 1424.5,325.7 1425.0,329.9 1425.5,334.2 1426.0,338.4 1426.5,342.7 1427.0,347.0 1427.5,351.3 1428.0,355.6 1428.5,359.9 1429.0,364.2 1429.5,368.5 1430.0,372.8 1430.5,377.1 1431.0,381.4 1431.5,385.7 1432.0,390.0 1432.5,394.3 1433.0,398.6 1433.5,402.8 1434.0,407.1 1434.5,411.3 1435.0,415.6 1435.5,419.8 1436.0,424.0 1436.5,428.1 1437.0,432.3 1437.5,436.4 1438.0,440.6 1438.5,444.7 1439.0,448.7 1439.5,452.8 1440.0,456.8 1440.5,460.8 1441.0,464.7 1441.5,468.6 1442.0,472.5 1442.5,476.4 1443.0,480.2 1443.5,484.0 1444.0,487.7 1444.5,491.5 1445.0,495.1 1445.5,498.8 1446.0,502.3 1446.5,505.9 1447.0,509.4 1447.5,512.8 1448.0,516.2 1448.5,519.6 1449.0,522.9 1449.5,526.2 1450.0,529.4 1450.5,532.5 1451.0,535.6 1451.5,538.7 1452.0,541.6 1452.5,544.6 1453.0,547.5 1453.5,550.3 1454.0,553.0 1454.5,555.7 1455.0,558.4 1455.5,560.9 1456.0,563.5 1456.5,565.9 1457.0,568.3 1457.5,570.6 1458.0,572.9 1458.5,575.0 1459.0,577.2 1459.5,579.2 1460.0,581.2 1460.5,583.1 1461.0,585.0 1461.5,586.7 1462.0,588.4 1462.5,590.1 1463.0,591.6 1463.5,593.1 1464.0,594.5 1464.5,595.9 1465.0,597.1 1465.5,598.3 1466.0,599.4 1466.5,600.5 1467.0,601.4 1467.5,602.3 1468.0,603.1 1468.5,603.9 1469.0,604.5 1469.5,605.1 1470.0,605.6 1470.5,606.0 1471.0,606.4 1471.5,606.7 1472.0,606.8 1472.5,607.0 1473.0,607.0 1473.5,607.0 1474.0,606.9 1474.5,606.7 1475.0,606.5 1475.5,606.2 1476.0,605.9 1476.5,605.5 1477.0,605.0 1477.5,604.5 1478.0,603.9 1478.5,603.2 1479.0,602.5 1479.5,601.7 1480.0,600.9 1480.5,600.0 1481.0,599.0 1481.5,598.0 1482.0,596.9 1482.5,595.8 1483.0,594.6 1483.5,593.3 1484.0,592.0 1484.5,590.6 1485.0,589.2 1485.5,587.7 1486.0,586.1 1486.5,584.5 1487.0,582.9 1487.5,581.1 1488.0,579.4 1488.5,577.5 1489.0,575.6 1489.5,573.7 1490.0,571.7 1490.5,569.7 1491.0,567.6 1491.5,565.4 1492.0,563.2 1492.5,560.9 1493.0,558.6 1493.5,556.3 1494.0,553.9 1494.5,551.4 1495.0,548.9 1495.5,546.3 1496.0,543.8 1496.5,541.1 1497.0,538.4 1497.5,535.7 1498.0,532.9 1498.5,530.1 1499.0,527.2 1499.5,524.3 1500.0,521.4 1500.5,518.4 1501.0,515.4 1501.5,512.3 1502.0,509.2 1502.5,506.1 1503.0,502.9 1503.5,499.7 1504.0,496.4 1504.5,493.2 1505.0,489.9 1505.5,486.5 1506.0,483.1 1506.5,479.7 1507.0,476.3 1507.5,472.9 1508.0,469.4 1508.5,465.9 1509.0,462.3 1509.5,458.8 1510.0,455.2 1510.5,451.6 1511.0,447.9 1511.5,444.3 1512.0,440.6 1512.5,436.9 1513.0,433.2 1513.5,429.5 1514.0,425.8 1514.5,422.0 1515.0,418.2 1515.5,414.4 1516.0,410.7 1516.5,406.9 1517.0,403.0 1517.5,399.2 1518.0,395.4 1518.5,391.5 1519.0,387.7 1519.5,383.9 1520.0,380.0 1520.5,376.2 1521.0,372.3 1521.5,368.4 1522.0,364.6 1522.5,360.7 1523.0,356.9 1523.5,353.0 1524.0,349.2 1524.5,345.3 1525.0,341.5 1525.5,337.7 1526.0,333.9 1526.5,330.1 1527.0,326.3 1527.5,322.5 1528.0,318.7 1528.5,314.9 1529.0,311.2 1529.5,307.5 1530.0,303.8 1530.5,300.1 1531.0,296.4 1531.5,292.7 1532.0,289.1 1532.5,285.5 1533.0,281.9 1533.5,278.3 1534.0,274.8 1534.5,271.2 1535.0,267.7 1535.5,264.3 1536.0,260.8 1536.5,257.4 1537.0,254.0 1537.5,250.7 1538.0,247.4 1538.5,244.1 1539.0,240.8 1539.5,237.6 1540.0,234.4 1540.5,231.2 1541.0,228.1 1541.5,225.1 1542.0,222.0 1542.5,219.0 1543.0,216.1 1543.5,213.1 1544.0,210.3 1544.5,207.4 1545.0,204.6 1545.5,201.9 1546.0,199.2 1546.5,196.5 1547.0,193.9 1547.5,191.3 1548.0,188.8 1548.5,186.3 1549.0,183.9 1549.5,181.5 1550.0,179.2 1550.5,176.9 1551.0,174.7 1551.5,172.5 1552.0,170.4 1552.5,168.3 1553.0,166.3 1553.5,164.3 1554.0,162.4 1554.5,160.6 1555.0,158.8 1555.5,157.0 1556.0,155.3 1556.5,153.7 1557.0,152.1 1557.5,150.6 1558.0,149.1 1558.5,147.7 1559.0,146.4 1559.5,145.1 1560.0,143.9 1560.5,142.7 1561.0,141.6 1561.5,140.6 1562.0,139.6 1562.5,138.7 1563.0,137.8 1563.5,137.0 1564.0,136.3 1564.5,135.6 1565.0,135.0 1565.5,134.4 1566.0,133.9 1566.5,133.5 1567.0,133.1 1567.5,132.8 1568.0,132.6 1568.5,132.4 1569.0,132.3 1569.5,132.2 1569.7,132.2 1570.2,132.2 1570.7,132.3 1571.2,132.5 1571.7,132.8 1572.2,133.1 1572.7,133.5 1573.2,134.0 1573.7,134.6 1574.2,135.2 1574.7,135.9 1575.2,136.7 1575.7,137.5 1576.2,138.4 1576.7,139.4 1577.2,140.5 1577.7,141.6 1578.2,142.8 1578.7,144.1 1579.2,145.5 1579.7,146.9 1580.2,148.4 1580.7,149.9 1581.2,151.5 1581.7,153.2 1582.2,155.0 1582.7,156.8 1583.2,158.7 1583.7,160.7 1584.2,162.7 1584.7,164.8 1585.2,167.0 1585.7,169.2 1586.2,171.5 1586.7,173.8 1587.2,176.2 1587.7,178.7 1588.2,181.2 1588.7,183.8 1589.2,186.4 1589.7,189.1 1590.2,191.9 1590.7,194.7 1591.2,197.5 1591.7,200.5 1592.2,203.4 1592.7,206.5 1593.2,209.5 1593.7,212.7 1594.2,215.8 1594.7,219.1 1595.2,222.3 1595.7,225.7 1596.2,229.0 1596.7,232.4 1597.2,235.9 1597.7,239.4 1598.2,242.9 1598.7,246.5 1599.2,250.1 1599.7,253.7 1600.2,257.4 1600.7,261.1 1601.2,264.9 1601.7,268.7 1602.2,272.5 1602.7,276.4 1603.2,280.2 1603.7,284.1 1604.2,288.1 1604.7,292.0 1605.2,296.0 1605.7,300.0 1606.2,304.1 1606.7,308.1 1607.2,312.2 1607.7,316.3 1608.2,320.4 1608.7,324.5 1609.2,328.7 1609.7,332.8 1610.2,337.0 1610.7,341.2 1611.2,345.3 1611.7,349.5 1612.2,353.7 1612.7,357.9 1613.2,362.2 1613.7,366.4 1614.2,370.6 1614.7,374.8 1615.2,379.0 1615.7,383.2 1616.2,387.4 1616.7,391.6 1617.2,395.8 1617.7,400.0 1618.2,404.2 1618.7,408.4 1619.2,412.5 1619.7,416.7 1620.2,420.8 1620.7,424.9 1621.2,429.0 1621.7,433.1 1622.2,437.2 1622.7,441.2 1623.2,445.3 1623.7,449.3 1624.2,453.2 1624.7,457.2 1625.2,461.1 1625.7,465.0 1626.2,468.9 1626.7,472.7 1627.2,476.5 1627.7,480.3 1628.2,484.1 1628.7,487.8 1629.2,491.4 1629.7,495.1 1630.2,498.7 1630.7,502.2 1631.2,505.7 1631.7,509.2 1632.2,512.6 1632.7,516.0 1633.2,519.4 1633.7,522.7 1634.2,525.9 1634.7,529.1 1635.2,532.3 1635.7,535.4 1636.2,538.5 1636.7,541.5 1637.2,544.4 1637.7,547.3 1638.2,550.2 1638.7,552.9 1639.2,555.7 1639.7,558.3 1640.2,561.0 1640.7,563.5 1641.2,566.0 1641.7,568.5 1642.2,570.8 1642.7,573.2 1643.2,575.4 1643.7,577.6 1644.2,579.7 1644.7,581.8 1645.2,583.8 1645.7,585.7 1646.2,587.6 1646.7,589.4 1647.2,591.1 1647.7,592.8 1648.2,594.4 1648.7,595.9 1649.2,597.4 1649.7,598.8 1650.2,600.1 1650.7,601.4 1651.2,602.5 1651.7,603.6 1652.2,604.7 1652.7,605.6 1653.2,606.5 1653.7,607.3 1654.2,608.1 1654.7,608.8 1655.2,609.4 1655.7,609.9 1656.2,610.3 1656.7,610.7 1657.2,611.0 1657.7,611.2 1658.2,611.4 1658.7,611.5 1659.0,611.5 1659.5,611.5 1660.0,611.4 1660.5,611.2 1661.0,610.9 1661.5,610.6 1662.0,610.2 1662.5,609.8 1663.0,609.2 1663.5,608.6 1664.0,608.0 1664.5,607.2 1665.0,606.4 1665.5,605.6 1666.0,604.6 1666.5,603.6 1667.0,602.5 1667.5,601.4 1668.0,600.2 1668.5,598.9 1669.0,597.5 1669.5,596.1 1670.0,594.6 1670.5,593.1 1671.0,591.5 1671.5,589.8 1672.0,588.0 1672.5,586.2 1673.0,584.4 1673.5,582.4 1674.0,580.4 1674.5,578.4 1675.0,576.3 1675.5,574.1 1676.0,571.8 1676.5,569.5 1677.0,567.2 1677.5,564.8 1678.0,562.3 1678.5,559.8 1679.0,557.2 1679.5,554.5 1680.0,551.9 1680.5,549.1 1681.0,546.3 1681.5,543.5 1682.0,540.6 1682.5,537.6 1683.0,534.6 1683.5,531.5 1684.0,528.4 1684.5,525.3 1685.0,522.1 1685.5,518.9 1686.0,515.6 1686.5,512.3 1687.0,508.9 1687.5,505.5 1688.0,502.0 1688.5,498.6 1689.0,495.0 1689.5,491.5 1690.0,487.9 1690.5,484.2 1691.0,480.6 1691.5,476.9 1692.0,473.1 1692.5,469.4 1693.0,465.6 1693.5,461.7 1694.0,457.9 1694.5,454.0 1695.0,450.1 1695.5,446.2 1696.0,442.2 1696.5,438.2 1697.0,434.2 1697.5,430.2 1698.0,426.2 1698.5,422.1 1699.0,418.1 1699.5,414.0 1700.0,409.9 1700.5,405.8 1701.0,401.6 1701.5,397.5 1702.0,393.4 1702.5,389.2 1703.0,385.0 1703.5,380.9 1704.0,376.7 1704.5,372.5 1705.0,368.3 1705.5,364.2 1706.0,360.0 1706.5,355.8 1707.0,351.6 1707.5,347.5 1708.0,343.3 1708.5,339.1 1709.0,335.0 1709.5,330.8 1710.0,326.7 1710.5,322.6 1711.0,318.4 1711.5,314.3 1712.0,310.3 1712.5,306.2 1713.0,302.1 1713.5,298.1 1714.0,294.1 1714.5,290.1 1715.0,286.1 1715.5,282.1 1716.0,278.2 1716.5,274.3 1717.0,270.4 1717.5,266.5 1718.0,262.7 1718.5,258.9 1719.0,255.1 1719.5,251.4 1720.0,247.7 1720.5,244.0 1721.0,240.4 1721.5,236.8 1722.0,233.2 1722.5,229.6 1723.0,226.2 1723.5,222.7 1724.0,219.3 1724.5,215.9 1725.0,212.6 1725.5,209.3 1726.0,206.0 1726.5,202.8 1727.0,199.7 1727.5,196.6 1728.0,193.5 1728.5,190.5 1729.0,187.5 1729.5,184.6 1730.0,181.8 1730.5,178.9 1731.0,176.2 1731.5,173.5 1732.0,170.8 1732.5,168.2 1733.0,165.7 1733.5,163.2 1734.0,160.8 1734.5,158.4 1735.0,156.1 1735.5,153.9 1736.0,151.7 1736.5,149.5 1737.0,147.5 1737.5,145.5 1738.0,143.5 1738.5,141.6 1739.0,139.8 1739.5,138.1 1740.0,136.4 1740.5,134.7 1741.0,133.2 1741.5,131.7 1742.0,130.3 1742.5,128.9 1743.0,127.6 1743.5,126.4 1744.0,125.2 1744.5,124.1 1745.0,123.1 1745.5,122.1 1746.0,121.2 1746.5,120.4 1747.0,119.7 1747.5,119.0 1748.0,118.4 1748.5,117.8 1749.0,117.4 1749.5,117.0 1750.0,116.6 1750.5,116.4 1751.0,116.2 1751.5,116.1 1752.0,116.0 1752.1,116.0 1752.6,116.0 1753.1,116.1 1753.6,116.3 1754.1,116.6 1754.6,116.9 1755.1,117.3 1755.6,117.7 1756.1,118.2 1756.6,118.8 1757.1,119.5 1757.6,120.2 1758.1,121.0 1758.6,121.9 1759.1,122.8 1759.6,123.8 1760.1,124.9 1760.6,126.1 1761.1,127.3 1761.6,128.6 1762.1,129.9 1762.6,131.3 1763.1,132.8 1763.6,134.3 1764.1,135.9 1764.6,137.6 1765.1,139.3 1765.6,141.1 1766.1,143.0 1766.6,144.9 1767.1,146.9 1767.6,148.9 1768.1,151.0 1768.6,153.2 1769.1,155.4 1769.6,157.7 1770.1,160.1 1770.6,162.5 1771.1,164.9 1771.6,167.4 1772.1,170.0 1772.6,172.6 1773.1,175.3 1773.6,178.1 1774.1,180.8 1774.6,183.7 1775.1,186.6 1775.6,189.5 1776.1,192.5 1776.6,195.5 1777.1,198.6 1777.6,201.7 1778.1,204.9 1778.6,208.1 1779.1,211.4 1779.6,214.7 1780.1,218.0 1780.6,221.4 1781.1,224.9 1781.6,228.3 1782.1,231.8 1782.6,235.4 1783.1,239.0 1783.6,242.6 1784.1,246.2 1784.6,249.9 1785.1,253.6 1785.6,257.4 1786.1,261.1 1786.6,264.9 1787.1,268.8 1787.6,272.6 1788.1,276.5 1788.6,280.4 1789.1,284.4 1789.6,288.3 1790.1,292.3 1790.6,296.3 1791.1,300.3 1791.6,304.3 1792.1,308.4 1792.6,312.4 1793.1,316.5 1793.6,320.6 1794.1,324.7 1794.6,328.8 1795.1,333.0 1795.6,337.1 1796.1,341.2 1796.6,345.4 1797.1,349.5 1797.6,353.7 1798.1,357.8 1798.6,362.0 1799.1,366.1 1799.6,370.3 1800.1,374.5 1800.6,378.6 1801.1,382.7 1801.6,386.9 1802.1,391.0 1802.6,395.1 1803.1,399.3 1803.6,403.4 1804.1,407.5 1804.6,411.5 1805.1,415.6 1805.6,419.7 1806.1,423.7 1806.6,427.7 1807.1,431.7 1807.6,435.7 1808.1,439.6 1808.6,443.6 1809.1,447.5 1809.6,451.4 1810.1,455.3 1810.6,459.1 1811.1,462.9 1811.6,466.7 1812.1,470.4 1812.6,474.2 1813.1,477.8 1813.6,481.5 1814.1,485.1 1814.6,488.7 1815.1,492.3 1815.6,495.8 1816.1,499.2 1816.6,502.7 1817.1,506.1 1817.6,509.4 1818.1,512.8 1818.6,516.0 1819.1,519.3 1819.6,522.4 1820.1,525.6 1820.6,528.7 1821.1,531.7 1821.6,534.7 1822.1,537.7 1822.6,540.6 1823.1,543.4 1823.6,546.2 1824.1,548.9 1824.6,551.6 1825.1,554.3 1825.6,556.8 1826.1,559.4 1826.6,561.8 1827.1,564.3 1827.6,566.6 1828.1,568.9 1828.6,571.1 1829.1,573.3 1829.6,575.4 1830.1,577.5 1830.6,579.5 1831.1,581.4 1831.6,583.3 1832.1,585.1 1832.6,586.9 1833.1,588.5 1833.6,590.2 1834.1,591.7 1834.6,593.2 1835.1,594.6 1835.6,596.0 1836.1,597.3 1836.6,598.5 1837.1,599.7 1837.6,600.7 1838.1,601.8 1838.6,602.7 1839.1,603.6 1839.6,604.4 1840.1,605.2 1840.6,605.8 1841.1,606.4 1841.6,607.0 1842.1,607.5 1842.6,607.9 1843.1,608.2 1843.6,608.4 1844.1,608.6 1844.6,608.7 1845.1,608.8 1845.2,608.8 1845.7,608.8 1846.2,608.6 1846.7,608.5 1847.2,608.2 1847.7,607.8 1848.2,607.4 1848.7,606.9 1849.2,606.3 1849.7,605.7 1850.2,604.9 1850.7,604.1 1851.2,603.2 1851.7,602.3 1852.2,601.2 1852.7,600.1 1853.2,598.9 1853.7,597.7 1854.2,596.3 1854.7,594.9 1855.2,593.5 1855.7,591.9 1856.2,590.3 1856.7,588.6 1857.2,586.8 1857.7,585.0 1858.2,583.0 1858.7,581.1 1859.2,579.0 1859.7,576.9 1860.2,574.7 1860.7,572.5 1861.2,570.1 1861.7,567.8 1862.2,565.3 1862.7,562.8 1863.2,560.2 1863.7,557.6 1864.2,554.9 1864.7,552.1 1865.2,549.3 1865.7,546.4 1866.2,543.5 1866.7,540.5 1867.2,537.4 1867.7,534.3 1868.2,531.1 1868.7,527.9 1869.2,524.7 1869.7,521.3 1870.2,518.0 1870.7,514.5 1871.2,511.1 1871.7,507.6 1872.2,504.0 1872.7,500.4 1873.2,496.7 1873.7,493.0 1874.2,489.3 1874.7,485.5 1875.2,481.7 1875.7,477.9 1876.2,474.0 1876.7,470.0 1877.2,466.1 1877.7,462.1 1878.2,458.1 1878.7,454.0 1879.2,449.9 1879.7,445.8 1880.2,441.7 1880.7,437.5 1881.2,433.3 1881.7,429.1 1882.2,424.8 1882.7,420.6 1883.2,416.3 1883.7,412.0 1884.2,407.7 1884.7,403.4 1885.2,399.0 1885.7,394.7 1886.2,390.3 1886.7,385.9 1887.2,381.5 1887.7,377.1 1888.2,372.7 1888.7,368.3 1889.2,363.9 1889.7,359.5 1890.2,355.1 1890.7,350.7 1891.2,346.3 1891.7,341.9 1892.2,337.5 1892.7,333.1 1893.2,328.7 1893.7,324.4 1894.2,320.0 1894.7,315.6 1895.2,311.3 1895.7,307.0 1896.2,302.7 1896.7,298.4 1897.2,294.1 1897.7,289.9 1898.2,285.6 1898.7,281.4 1899.2,277.2 1899.7,273.1 1900.2,269.0 1900.7,264.9 1901.2,260.8 1901.7,256.7 1902.2,252.7 1902.7,248.7 1903.2,244.8 1903.7,240.9 1904.2,237.0 1904.7,233.2 1905.2,229.4 1905.7,225.6 1906.2,221.9 1906.7,218.2 1907.2,214.6 1907.7,211.0 1908.2,207.4 1908.7,203.9 1909.2,200.5 1909.7,197.1 1910.2,193.7 1910.7,190.4 1911.2,187.2 1911.7,184.0 1912.2,180.8 1912.7,177.8 1913.2,174.7 1913.7,171.8 1914.2,168.8 1914.7,166.0 1915.2,163.2 1915.7,160.4 1916.2,157.8 1916.7,155.1 1917.2,152.6 1917.7,150.1 1918.2,147.7 1918.7,145.3 1919.2,143.0 1919.7,140.8 1920.2,138.6 1920.7,136.6 1921.2,134.5 1921.7,132.6 1922.2,130.7 1922.7,128.9 1923.2,127.1 1923.7,125.5 1924.2,123.9 1924.7,122.3 1925.2,120.9 1925.7,119.5 1926.2,118.2 1926.7,117.0 1927.2,115.8 1927.7,114.7 1928.2,113.7 1928.7,112.8 1929.2,111.9 1929.7,111.2 1930.2,110.5 1930.7,109.8 1931.2,109.3 1931.7,108.8 1932.2,108.4 1932.7,108.1 1933.2,107.9 1933.7,107.7 1934.2,107.6 1934.5,107.6 1935.0,107.7 1935.5,107.8 1936.0,108.1 1936.5,108.4 1937.0,108.8 1937.5,109.4 1938.0,110.0 1938.5,110.8 1939.0,111.6 1939.5,112.5 1940.0,113.5 1940.5,114.6 1941.0,115.7 1941.5,117.0 1942.0,118.3 1942.5,119.8 1943.0,121.3 1943.5,122.9 1944.0,124.5 1944.5,126.3 1945.0,128.1 1945.5,130.0 1946.0,132.0 1946.5,134.0 1947.0,136.1 1947.5,138.3 1948.0,140.5 1948.5,142.9 1949.0,145.2 1949.5,147.7 1950.0,150.2 1950.5,152.8 1951.0,155.4 1951.5,158.1 1952.0,160.9 1952.5,163.7 1953.0,166.5 1953.5,169.4 1954.0,172.4 1954.5,175.4 1955.0,178.5 1955.5,181.6 1956.0,184.8 1956.5,188.0 1957.0,191.3 1957.5,194.6 1958.0,197.9 1958.5,201.3 1959.0,204.7 1959.5,208.2 1960.0,211.7 1960.5,215.3 1961.0,218.8 1961.5,222.4 1962.0,226.1 1962.5,229.8 1963.0,233.5 1963.5,237.2 1964.0,240.9 1964.5,244.7 1965.0,248.5 1965.5,252.4 1966.0,256.2 1966.5,260.1 1967.0,264.0 1967.5,267.9 1968.0,271.8 1968.5,275.8 1969.0,279.7 1969.5,283.7 1970.0,287.7 1970.5,291.7 1971.0,295.7 1971.5,299.7 1972.0,303.7 1972.5,307.7 1973.0,311.8 1973.5,315.8 1974.0,319.8 1974.5,323.9 1975.0,327.9 1975.5,331.9 1976.0,335.9 1976.5,340.0 1977.0,344.0 1977.5,348.0 1978.0,352.0 1978.5,355.9 1979.0,359.9 1979.5,363.9 1980.0,367.8 1980.5,371.8 1981.0,375.7 1981.5,379.6 1982.0,383.4 1982.5,387.3 1983.0,391.1 1983.5,394.9 1984.0,398.7 1984.5,402.5 1985.0,406.2 1985.5,409.9 1986.0,413.6 1986.5,417.2 1987.0,420.9 1987.5,424.4 1988.0,428.0 1988.5,431.5 1989.0,435.0 1989.5,438.4 1990.0,441.8 1990.5,445.1 1991.0,448.4 1991.5,451.7 1992.0,454.9 1992.5,458.1 1993.0,461.2 1993.5,464.3 1994.0,467.3 1994.5,470.3 1995.0,473.2 1995.5,476.1 1996.0,478.9 1996.5,481.7 1997.0,484.4 1997.5,487.1 1998.0,489.9 1998.5,492.6 1999.0,495.3 1999.5,498.0 2000.0,500.6 2000.5,503.3 2001.0,505.9 2001.5,508.5 2002.0,511.0 2002.5,513.6 2003.0,516.1 2003.5,518.6 2004.0,521.0 2004.5,523.4 2005.0,525.8 2005.5,528.1 2006.0,530.5 2006.5,532.8 2007.0,535.0 2007.5,537.3 2008.0,539.5 2008.5,541.8 2009.0,544.0 2009.5,546.2 2010.0,548.4 2010.5,550.6 2011.0,552.7 2011.5,554.9 2012.0,557.1 2012.5,559.3 2013.0,561.5 2013.5,563.7 2014.0,565.8 2014.5,568.0 2015.0,570.1 2015.5,572.3 2016.0,574.4 2016.5,576.5 2017.0,578.6 2017.5,580.7 2017.8,582.0" fill="none" stroke="#0f0f80" stroke-width="2.1" stroke-linejoin="round"/>
<path d="M209.9,1274.2 210.4,1275.2 210.9,1276.7 211.4,1278.6 211.9,1280.7 212.4,1283.1 212.9,1285.9 213.4,1289.4 213.9,1293.5 214.4,1297.9 214.9,1302.5 215.4,1307.1 215.9,1312.1 216.4,1317.5 216.9,1323.0 217.4,1328.1 217.9,1332.5 218.4,1336.1 218.9,1339.3 219.4,1342.2 219.9,1345.2 220.4,1348.4 220.9,1352.2 221.4,1356.7 221.9,1361.7 222.4,1366.7 222.9,1371.3 223.4,1375.3 223.9,1378.9 224.4,1382.3 224.9,1385.5 225.4,1388.5 225.9,1391.6 226.4,1394.6 226.9,1397.5 227.4,1400.2 227.9,1403.0 228.4,1405.8 228.9,1408.7 229.4,1411.8 229.9,1415.2 230.4,1418.6 230.9,1422.0 231.4,1425.2 231.9,1428.2 232.4,1431.3 232.9,1434.2 233.4,1437.0 233.9,1439.4 234.4,1441.5 234.9,1443.3 235.4,1445.1 235.9,1446.9 236.4,1448.7 236.9,1450.4 237.4,1452.0 237.9,1453.6 238.4,1455.0 238.9,1456.3 239.4,1457.5 239.9,1458.6 240.4,1459.4 240.9,1460.1 241.4,1460.6 241.9,1460.9 242.2,1460.9 242.7,1460.9 243.2,1460.8 243.7,1460.6 244.2,1460.3 244.7,1459.9 245.2,1459.4 245.7,1458.8 246.2,1458.0 246.7,1457.2 247.2,1456.2 247.7,1455.0 248.2,1453.8 248.7,1452.3 249.2,1450.8 249.7,1449.0 250.2,1447.1 250.7,1445.1 251.2,1442.9 251.7,1440.5 252.2,1437.9 252.7,1435.2 253.2,1432.3 253.7,1429.2 254.2,1426.0 254.7,1422.6 255.2,1419.1 255.7,1415.3 256.2,1411.4 256.7,1407.4 257.2,1403.1 257.7,1398.7 258.2,1394.2 258.7,1389.5 259.2,1384.6 259.7,1379.6 260.2,1374.5 260.7,1369.2 261.2,1363.7 261.7,1358.1 262.2,1352.4 262.7,1346.6 263.2,1340.6 263.7,1334.6 264.2,1328.4 264.7,1322.1 265.2,1315.7 265.7,1309.2 266.2,1302.6 266.7,1295.9 267.2,1289.2 267.7,1282.3 268.2,1275.5 268.7,1268.5 269.2,1261.5 269.7,1254.4 270.2,1247.3 270.7,1240.2 271.2,1233.0 271.7,1225.8 272.2,1218.6 272.7,1211.4 273.2,1204.2 273.7,1196.9 274.2,1189.7 274.7,1182.5 275.2,1175.4 275.7,1168.2 276.2,1161.1 276.7,1154.0 277.2,1147.0 277.7,1140.0 278.2,1133.1 278.7,1126.3 279.2,1119.5 279.7,1112.8 280.2,1106.2 280.7,1099.7 281.2,1093.3 281.7,1087.0 282.2,1080.8 282.7,1074.7 283.2,1068.7 283.7,1062.8 284.2,1057.1 284.7,1051.5 285.2,1046.0 285.7,1040.7 286.2,1035.5 286.7,1030.5 287.2,1025.6 287.7,1020.8 288.2,1016.3 288.7,1011.8 289.2,1007.6 289.7,1003.5 290.2,999.5 290.7,995.8 291.2,992.2 291.7,988.7 292.2,985.5 292.7,982.4 293.2,979.5 293.7,976.7 294.2,974.1 294.7,971.7 295.2,969.5 295.7,967.4 296.2,965.4 296.7,963.7 297.2,962.1 297.7,960.6 298.2,959.3 298.7,958.1 299.2,957.1 299.7,956.2 300.2,955.5 300.7,954.8 301.2,954.3 301.7,953.9 302.2,953.6 302.7,953.4 303.2,953.3 303.7,953.2 303.8,953.2 304.3,953.2 304.8,953.4 305.3,953.7 305.8,954.0 306.3,954.6 306.8,955.3 307.3,956.1 307.8,957.1 308.3,958.3 308.8,959.7 309.3,961.2 309.8,963.0 310.3,965.0 310.8,967.2 311.3,969.6 311.8,972.2 312.3,975.0 312.8,978.1 313.3,981.4 313.8,984.9 314.3,988.6 314.8,992.5 315.3,996.7 315.8,1001.1 316.3,1005.7 316.8,1010.5 317.3,1015.6 317.8,1020.8 318.3,1026.2 318.8,1031.9 319.3,1037.7 319.8,1043.8 320.3,1050.0 320.8,1056.4 321.3,1062.9 321.8,1069.6 322.3,1076.5 322.8,1083.5 323.3,1090.7 323.8,1098.0 324.3,1105.4 324.8,1113.0 325.3,1120.6 325.8,1128.3 326.3,1136.2 326.8,1144.1 327.3,1152.0 327.8,1160.1 328.3,1168.2 328.8,1176.3 329.3,1184.4 329.8,1192.6 330.3,1200.8 330.8,1208.9 331.3,1217.1 331.8,1225.3 332.3,1233.4 332.8,1241.4 333.3,1249.5 333.8,1257.4 334.3,1265.3 334.8,1273.1 335.3,1280.8 335.8,1288.5 336.3,1296.0 336.8,1303.4 337.3,1310.6 337.8,1317.8 338.3,1324.8 338.8,1331.6 339.3,1338.3 339.8,1344.8 340.3,1351.2 340.8,1357.4 341.3,1363.4 341.8,1369.2 342.3,1374.8 342.8,1380.2 343.3,1385.4 343.8,1390.4 344.3,1395.1 344.8,1399.7 345.3,1404.1 345.8,1408.2 346.3,1412.1 346.8,1415.8 347.3,1419.2 347.8,1422.4 348.3,1425.5 348.8,1428.3 349.3,1430.8 349.8,1433.2 350.3,1435.3 350.8,1437.3 351.3,1439.0 351.8,1440.5 352.3,1441.9 352.8,1443.0 353.3,1444.0 353.8,1444.8 354.3,1445.4 354.8,1445.9 355.3,1446.3 355.8,1446.5 356.3,1446.7 356.7,1446.7 357.2,1446.7 357.7,1446.6 358.2,1446.4 358.7,1446.2 359.2,1445.9 359.7,1445.5 360.2,1445.0 360.7,1444.4 361.2,1443.7 361.7,1442.9 362.2,1442.0 362.7,1441.0 363.2,1439.8 363.7,1438.6 364.2,1437.2 364.7,1435.7 365.2,1434.0 365.7,1432.3 366.2,1430.4 366.7,1428.3 367.2,1426.1 367.7,1423.8 368.2,1421.4 368.7,1418.8 369.2,1416.0 369.7,1413.2 370.2,1410.2 370.7,1407.0 371.2,1403.7 371.7,1400.3 372.2,1396.7 372.7,1393.0 373.2,1389.2 373.7,1385.3 374.2,1381.2 374.7,1376.9 375.2,1372.6 375.7,1368.1 376.2,1363.5 376.7,1358.8 377.2,1354.0 377.7,1349.1 378.2,1344.0 378.7,1338.9 379.2,1333.6 379.7,1328.2 380.2,1322.8 380.7,1317.2 381.2,1311.6 381.7,1305.9 382.2,1300.1 382.7,1294.2 383.2,1288.3 383.7,1282.3 384.2,1276.2 384.7,1270.1 385.2,1263.9 385.7,1257.6 386.2,1251.3 386.7,1245.0 387.2,1238.7 387.7,1232.3 388.2,1225.9 388.7,1219.4 389.2,1213.0 389.7,1206.5 390.2,1200.0 390.7,1193.6 391.2,1187.1 391.7,1180.7 392.2,1174.2 392.7,1167.8 393.2,1161.4 393.7,1155.0 394.2,1148.7 394.7,1142.4 395.2,1136.1 395.7,1129.9 396.2,1123.8 396.7,1117.7 397.2,1111.6 397.7,1105.6 398.2,1099.7 398.7,1093.9 399.2,1088.2 399.7,1082.5 400.2,1076.9 400.7,1071.4 401.2,1066.0 401.7,1060.7 402.2,1055.5 402.7,1050.4 403.2,1045.5 403.7,1040.6 404.2,1035.8 404.7,1031.2 405.2,1026.7 405.7,1022.3 406.2,1018.0 406.7,1013.9 407.2,1009.9 407.7,1006.0 408.2,1002.2 408.7,998.6 409.2,995.1 409.7,991.8 410.2,988.6 410.7,985.5 411.2,982.6 411.7,979.8 412.2,977.2 412.7,974.6 413.2,972.3 413.7,970.0 414.2,967.9 414.7,966.0 415.2,964.2 415.7,962.5 416.2,960.9 416.7,959.5 417.2,958.2 417.7,957.0 418.2,955.9 418.7,954.9 419.2,954.1 419.7,953.4 420.2,952.7 420.7,952.2 421.2,951.8 421.7,951.4 422.2,951.2 422.7,951.0 423.2,950.9 423.7,950.8 423.9,950.8 424.4,950.8 424.9,950.9 425.4,951.1 425.9,951.3 426.4,951.7 426.9,952.1 427.4,952.6 427.9,953.2 428.4,953.9 428.9,954.8 429.4,955.7 429.9,956.8 430.4,958.0 430.9,959.3 431.4,960.8 431.9,962.3 432.4,964.1 432.9,965.9 433.4,967.9 433.9,970.1 434.4,972.3 434.9,974.8 435.4,977.3 435.9,980.0 436.4,982.9 436.9,985.9 437.4,989.0 437.9,992.3 438.4,995.8 438.9,999.3 439.4,1003.0 439.9,1006.9 440.4,1010.9 440.9,1015.0 441.4,1019.3 441.9,1023.7 442.4,1028.2 442.9,1032.8 443.4,1037.6 443.9,1042.5 444.4,1047.5 444.9,1052.6 445.4,1057.8 445.9,1063.2 446.4,1068.6 446.9,1074.1 447.4,1079.8 447.9,1085.5 448.4,1091.3 448.9,1097.2 449.4,1103.1 449.9,1109.2 450.4,1115.3 450.9,1121.5 451.4,1127.7 451.9,1134.0 452.4,1140.3 452.9,1146.7 453.4,1153.1 453.9,1159.5 454.4,1166.0 454.9,1172.5 455.4,1179.0 455.9,1185.5 456.4,1192.1 456.9,1198.6 457.4,1205.2 457.9,1211.7 458.4,1218.2 458.9,1224.7 459.4,1231.2 459.9,1237.6 460.4,1244.0 460.9,1250.4 461.4,1256.7 461.9,1263.0 462.4,1269.2 462.9,1275.3 463.4,1281.4 463.9,1287.5 464.4,1293.4 464.9,1299.3 465.4,1305.1 465.9,1310.8 466.4,1316.4 466.9,1321.9 467.4,1327.3 467.9,1332.6 468.4,1337.8 468.9,1342.9 469.4,1347.9 469.9,1352.8 470.4,1357.5 470.9,1362.1 471.4,1366.6 471.9,1371.0 472.4,1375.2 472.9,1379.3 473.4,1383.3 473.9,1387.1 474.4,1390.8 474.9,1394.3 475.4,1397.7 475.9,1401.0 476.4,1404.1 476.9,1407.1 477.4,1409.9 477.9,1412.6 478.4,1415.1 478.9,1417.5 479.4,1419.8 479.9,1421.9 480.4,1423.9 480.9,1425.7 481.4,1427.4 481.9,1428.9 482.4,1430.4 482.9,1431.7 483.4,1432.8 483.9,1433.9 484.4,1434.8 484.9,1435.6 485.4,1436.3 485.9,1436.9 486.4,1437.4 486.9,1437.8 487.4,1438.1 487.9,1438.4 488.4,1438.5 488.9,1438.6 489.3,1438.6 489.8,1438.6 490.3,1438.4 490.8,1438.2 491.3,1437.8 491.8,1437.3 492.3,1436.7 492.8,1435.9 493.3,1435.0 493.8,1433.9 494.3,1432.6 494.8,1431.2 495.3,1429.6 495.8,1427.8 496.3,1425.7 496.8,1423.5 497.3,1421.1 497.8,1418.5 498.3,1415.7 498.8,1412.7 499.3,1409.5 499.8,1406.0 500.3,1402.4 500.8,1398.5 501.3,1394.5 501.8,1390.2 502.3,1385.7 502.8,1381.1 503.3,1376.2 503.8,1371.1 504.3,1365.9 504.8,1360.4 505.3,1354.8 505.8,1349.0 506.3,1343.0 506.8,1336.8 507.3,1330.5 507.8,1324.0 508.3,1317.4 508.8,1310.6 509.3,1303.7 509.8,1296.6 510.3,1289.5 510.8,1282.2 511.3,1274.8 511.8,1267.3 512.3,1259.7 512.8,1252.0 513.3,1244.3 513.8,1236.4 514.3,1228.6 514.8,1220.6 515.3,1212.6 515.8,1204.6 516.3,1196.6 516.8,1188.5 517.3,1180.5 517.8,1172.4 518.3,1164.4 518.8,1156.4 519.3,1148.4 519.8,1140.4 520.3,1132.5 520.8,1124.6 521.3,1116.8 521.8,1109.1 522.3,1101.5 522.8,1093.9 523.3,1086.4 523.8,1079.1 524.3,1071.8 524.8,1064.7 525.3,1057.7 525.8,1050.9 526.3,1044.1 526.8,1037.6 527.3,1031.2 527.8,1024.9 528.3,1018.8 528.8,1012.9 529.3,1007.1 529.8,1001.6 530.3,996.2 530.8,991.0 531.3,986.0 531.8,981.2 532.3,976.7 532.8,972.3 533.3,968.1 533.8,964.1 534.3,960.3 534.8,956.8 535.3,953.4 535.8,950.3 536.3,947.3 536.8,944.6 537.3,942.1 537.8,939.8 538.3,937.6 538.8,935.7 539.3,934.0 539.8,932.4 540.3,931.0 540.8,929.8 541.3,928.8 541.8,927.9 542.3,927.2 542.8,926.7 543.3,926.2 543.8,925.9 544.3,925.7 544.8,925.6 545.1,925.6 545.6,925.6 546.1,925.7 546.6,925.9 547.1,926.2 547.6,926.6 548.1,927.2 548.6,927.8 549.1,928.5 549.6,929.4 550.1,930.4 550.6,931.6 551.1,932.9 551.6,934.4 552.1,936.0 552.6,937.8 553.1,939.7 553.6,941.9 554.1,944.1 554.6,946.6 555.1,949.2 555.6,952.0 556.1,955.0 556.6,958.1 557.1,961.4 557.6,964.9 558.1,968.6 558.6,972.4 559.1,976.4 559.6,980.6 560.1,984.9 560.6,989.4 561.1,994.1 561.6,998.9 562.1,1003.9 562.6,1009.0 563.1,1014.3 563.6,1019.7 564.1,1025.3 564.6,1031.0 565.1,1036.8 565.6,1042.8 566.1,1048.9 566.6,1055.1 567.1,1061.4 567.6,1067.9 568.1,1074.4 568.6,1081.0 569.1,1087.7 569.6,1094.6 570.1,1101.4 570.6,1108.4 571.1,1115.4 571.6,1122.5 572.1,1129.6 572.6,1136.8 573.1,1144.1 573.6,1151.3 574.1,1158.6 574.6,1165.9 575.1,1173.2 575.6,1180.5 576.1,1187.9 576.6,1195.2 577.1,1202.5 577.6,1209.8 578.1,1217.0 578.6,1224.3 579.1,1231.5 579.6,1238.6 580.1,1245.7 580.6,1252.7 581.1,1259.7 581.6,1266.5 582.1,1273.4 582.6,1280.1 583.1,1286.7 583.6,1293.2 584.1,1299.7 584.6,1306.0 585.1,1312.2 585.6,1318.3 586.1,1324.3 586.6,1330.1 587.1,1335.8 587.6,1341.4 588.1,1346.8 588.6,1352.1 589.1,1357.2 589.6,1362.2 590.1,1367.0 590.6,1371.7 591.1,1376.2 591.6,1380.5 592.1,1384.7 592.6,1388.7 593.1,1392.5 593.6,1396.2 594.1,1399.7 594.6,1403.0 595.1,1406.1 595.6,1409.1 596.1,1411.9 596.6,1414.5 597.1,1417.0 597.6,1419.2 598.1,1421.4 598.6,1423.3 599.1,1425.1 599.6,1426.7 600.1,1428.2 600.6,1429.5 601.1,1430.7 601.6,1431.7 602.1,1432.6 602.6,1433.3 603.1,1433.9 603.6,1434.5 604.1,1434.9 604.6,1435.2 605.1,1435.4 605.6,1435.5 606.1,1435.5 606.6,1435.5 607.1,1435.4 607.6,1435.2 608.1,1435.0 608.6,1434.7 609.1,1434.2 609.6,1433.7 610.1,1433.1 610.6,1432.4 611.1,1431.6 611.6,1430.6 612.1,1429.6 612.6,1428.4 613.1,1427.1 613.6,1425.7 614.1,1424.1 614.6,1422.4 615.1,1420.6 615.6,1418.6 616.1,1416.5 616.6,1414.3 617.1,1411.9 617.6,1409.3 618.1,1406.7 618.6,1403.8 619.1,1400.9 619.6,1397.8 620.1,1394.5 620.6,1391.1 621.1,1387.6 621.6,1383.9 622.1,1380.1 622.6,1376.1 623.1,1372.0 623.6,1367.8 624.1,1363.4 624.6,1359.0 625.1,1354.3 625.6,1349.6 626.1,1344.7 626.6,1339.7 627.1,1334.6 627.6,1329.4 628.1,1324.1 628.6,1318.6 629.1,1313.1 629.6,1307.4 630.1,1301.7 630.6,1295.9 631.1,1290.0 631.6,1284.0 632.1,1277.9 632.6,1271.7 633.1,1265.5 633.6,1259.2 634.1,1252.8 634.6,1246.4 635.1,1240.0 635.6,1233.4 636.1,1226.9 636.6,1220.3 637.1,1213.7 637.6,1207.0 638.1,1200.3 638.6,1193.6 639.1,1186.9 639.6,1180.2 640.1,1173.5 640.6,1166.8 641.1,1160.1 641.6,1153.4 642.1,1146.7 642.6,1140.0 643.1,1133.4 643.6,1126.8 644.1,1120.3 644.6,1113.7 645.1,1107.3 645.6,1100.9 646.1,1094.5 646.6,1088.2 647.1,1082.0 647.6,1075.8 648.1,1069.7 648.6,1063.7 649.1,1057.8 649.6,1052.0 650.1,1046.3 650.6,1040.6 651.1,1035.1 651.6,1029.6 652.1,1024.3 652.6,1019.1 653.1,1014.0 653.6,1009.0 654.1,1004.1 654.6,999.4 655.1,994.7 655.6,990.3 656.1,985.9 656.6,981.7 657.1,977.6 657.6,973.6 658.1,969.8 658.6,966.1 659.1,962.6 659.6,959.2 660.1,955.9 660.6,952.8 661.1,949.9 661.6,947.0 662.1,944.4 662.6,941.8 663.1,939.4 663.6,937.2 664.1,935.1 664.6,933.1 665.1,931.3 665.6,929.6 666.1,928.0 666.6,926.6 667.1,925.3 667.6,924.1 668.1,923.1 668.6,922.1 669.1,921.3 669.6,920.6 670.1,920.0 670.6,919.5 671.1,919.0 671.6,918.7 672.1,918.5 672.6,918.3 673.1,918.2 673.6,918.2 674.1,918.2 674.6,918.4 675.1,918.6 675.6,919.0 676.1,919.4 676.6,920.0 677.1,920.8 677.6,921.7 678.1,922.8 678.6,924.0 679.1,925.4 679.6,927.0 680.1,928.7 680.6,930.7 681.1,932.8 681.6,935.2 682.1,937.7 682.6,940.4 683.1,943.4 683.6,946.5 684.1,949.8 684.6,953.4 685.1,957.1 685.6,961.1 686.1,965.2 686.6,969.6 687.1,974.1 687.6,978.9 688.1,983.8 688.6,988.9 689.1,994.3 689.6,999.8 690.1,1005.4 690.6,1011.3 691.1,1017.3 691.6,1023.5 692.1,1029.8 692.6,1036.3 693.1,1042.9 693.6,1049.7 694.1,1056.6 694.6,1063.7 695.1,1070.8 695.6,1078.1 696.1,1085.5 696.6,1092.9 697.1,1100.5 697.6,1108.1 698.1,1115.9 698.6,1123.6 699.1,1131.5 699.6,1139.4 700.1,1147.3 700.6,1155.3 701.1,1163.2 701.6,1171.2 702.1,1179.3 702.6,1187.3 703.1,1195.3 703.6,1203.2 704.1,1211.2 704.6,1219.1 705.1,1227.0 705.6,1234.8 706.1,1242.5 706.6,1250.2 707.1,1257.8 707.6,1265.4 708.1,1272.8 708.6,1280.1 709.1,1287.4 709.6,1294.5 710.1,1301.4 710.6,1308.3 711.1,1315.0 711.6,1321.6 712.1,1328.0 712.6,1334.3 713.1,1340.4 713.6,1346.4 714.1,1352.2 714.6,1357.8 715.1,1363.2 715.6,1368.4 716.1,1373.5 716.6,1378.3 717.1,1383.0 717.6,1387.5 718.1,1391.8 718.6,1395.8 719.1,1399.7 719.6,1403.4 720.1,1406.8 720.6,1410.1 721.1,1413.1 721.6,1416.0 722.1,1418.6 722.6,1421.1 723.1,1423.4 723.6,1425.4 724.1,1427.3 724.6,1429.0 725.1,1430.5 725.6,1431.8 726.1,1433.0 726.6,1434.0 727.1,1434.8 727.6,1435.5 728.1,1436.1 728.6,1436.5 729.1,1436.8 729.6,1437.0 730.1,1437.1 730.4,1437.1 730.9,1437.1 731.4,1437.0 731.9,1436.8 732.4,1436.5 732.9,1436.2 733.4,1435.7 733.9,1435.1 734.4,1434.5 734.9,1433.7 735.4,1432.7 735.9,1431.7 736.4,1430.5 736.9,1429.2 737.4,1427.8 737.9,1426.2 738.4,1424.4 738.9,1422.5 739.4,1420.5 739.9,1418.3 740.4,1415.9 740.9,1413.4 741.4,1410.8 741.9,1407.9 742.4,1405.0 742.9,1401.8 743.4,1398.5 743.9,1395.1 744.4,1391.5 744.9,1387.7 745.4,1383.8 745.9,1379.7 746.4,1375.5 746.9,1371.1 747.4,1366.6 747.9,1361.9 748.4,1357.1 748.9,1352.2 749.4,1347.1 749.9,1341.8 750.4,1336.5 750.9,1331.0 751.4,1325.4 751.9,1319.7 752.4,1313.9 752.9,1307.9 753.4,1301.9 753.9,1295.7 754.4,1289.5 754.9,1283.2 755.4,1276.7 755.9,1270.2 756.4,1263.7 756.9,1257.0 757.4,1250.3 757.9,1243.5 758.4,1236.7 758.9,1229.8 759.4,1222.9 759.9,1215.9 760.4,1208.9 760.9,1201.9 761.4,1194.8 761.9,1187.8 762.4,1180.7 762.9,1173.6 763.4,1166.5 763.9,1159.5 764.4,1152.4 764.9,1145.4 765.4,1138.4 765.9,1131.4 766.4,1124.5 766.9,1117.6 767.4,1110.8 767.9,1104.0 768.4,1097.2 768.9,1090.6 769.4,1084.0 769.9,1077.5 770.4,1071.0 770.9,1064.7 771.4,1058.4 771.9,1052.2 772.4,1046.2 772.9,1040.2 773.4,1034.3 773.9,1028.6 774.4,1023.0 774.9,1017.5 775.4,1012.1 775.9,1006.9 776.4,1001.8 776.9,996.8 777.4,991.9 777.9,987.2 778.4,982.7 778.9,978.3 779.4,974.0 779.9,969.9 780.4,966.0 780.9,962.2 781.4,958.5 781.9,955.0 782.4,951.7 782.9,948.5 783.4,945.5 783.9,942.7 784.4,940.0 784.9,937.5 785.4,935.1 785.9,932.8 786.4,930.8 786.9,928.8 787.4,927.1 787.9,925.5 788.4,924.0 788.9,922.6 789.4,921.4 789.9,920.4 790.4,919.4 790.9,918.6 791.4,917.9 791.9,917.3 792.4,916.8 792.9,916.4 793.4,916.2 793.9,916.0 794.4,915.8 794.9,915.8 795.0,915.8 795.5,915.8 796.0,915.9 796.5,916.1 797.0,916.4 797.5,916.7 798.0,917.2 798.5,917.8 799.0,918.5 799.5,919.3 800.0,920.2 800.5,921.3 801.0,922.4 801.5,923.8 802.0,925.2 802.5,926.8 803.0,928.6 803.5,930.5 804.0,932.6 804.5,934.8 805.0,937.2 805.5,939.7 806.0,942.4 806.5,945.2 807.0,948.2 807.5,951.4 808.0,954.7 808.5,958.2 809.0,961.9 809.5,965.7 810.0,969.6 810.5,973.7 811.0,978.0 811.5,982.4 812.0,987.0 812.5,991.7 813.0,996.6 813.5,1001.6 814.0,1006.7 814.5,1012.0 815.0,1017.4 815.5,1022.9 816.0,1028.6 816.5,1034.4 817.0,1040.2 817.5,1046.2 818.0,1052.4 818.5,1058.6 819.0,1064.9 819.5,1071.3 820.0,1077.8 820.5,1084.3 821.0,1091.0 821.5,1097.7 822.0,1104.5 822.5,1111.4 823.0,1118.3 823.5,1125.2 824.0,1132.2 824.5,1139.3 825.0,1146.4 825.5,1153.5 826.0,1160.6 826.5,1167.7 827.0,1174.9 827.5,1182.0 828.0,1189.2 828.5,1196.3 829.0,1203.5 829.5,1210.6 830.0,1217.7 830.5,1224.7 831.0,1231.8 831.5,1238.7 832.0,1245.7 832.5,1252.5 833.0,1259.4 833.5,1266.1 834.0,1272.8 834.5,1279.4 835.0,1285.9 835.5,1292.4 836.0,1298.7 836.5,1305.0 837.0,1311.1 837.5,1317.2 838.0,1323.1 838.5,1328.9 839.0,1334.6 839.5,1340.2 840.0,1345.7 840.5,1351.0 841.0,1356.2 841.5,1361.2 842.0,1366.2 842.5,1370.9 843.0,1375.6 843.5,1380.0 844.0,1384.4 844.5,1388.5 845.0,1392.6 845.5,1396.4 846.0,1400.1 846.5,1403.7 847.0,1407.1 847.5,1410.3 848.0,1413.4 848.5,1416.3 849.0,1419.0 849.5,1421.6 850.0,1424.1 850.5,1426.4 851.0,1428.5 851.5,1430.4 852.0,1432.3 852.5,1433.9 853.0,1435.5 853.5,1436.8 854.0,1438.1 854.5,1439.2 855.0,1440.2 855.5,1441.0 856.0,1441.8 856.5,1442.4 857.0,1442.9 857.5,1443.3 858.0,1443.6 858.5,1443.8 859.0,1443.9 859.5,1444.0 859.7,1444.0 860.2,1444.0 860.7,1443.8 861.2,1443.5 861.7,1443.1 862.2,1442.6 862.7,1441.9 863.2,1441.1 863.7,1440.1 864.2,1438.9 864.7,1437.5 865.2,1435.9 865.7,1434.1 866.2,1432.1 866.7,1429.9 867.2,1427.5 867.7,1424.9 868.2,1422.0 868.7,1419.0 869.2,1415.7 869.7,1412.1 870.2,1408.4 870.7,1404.4 871.2,1400.2 871.7,1395.8 872.2,1391.1 872.7,1386.2 873.2,1381.1 873.7,1375.8 874.2,1370.3 874.7,1364.6 875.2,1358.6 875.7,1352.5 876.2,1346.2 876.7,1339.7 877.2,1333.0 877.7,1326.1 878.2,1319.1 878.7,1311.9 879.2,1304.6 879.7,1297.1 880.2,1289.5 880.7,1281.8 881.2,1273.9 881.7,1265.9 882.2,1257.9 882.7,1249.7 883.2,1241.4 883.7,1233.1 884.2,1224.7 884.7,1216.3 885.2,1207.8 885.7,1199.3 886.2,1190.7 886.7,1182.1 887.2,1173.6 887.7,1165.0 888.2,1156.4 888.7,1147.9 889.2,1139.4 889.7,1131.0 890.2,1122.6 890.7,1114.2 891.2,1106.0 891.7,1097.8 892.2,1089.7 892.7,1081.7 893.2,1073.8 893.7,1066.0 894.2,1058.4 894.7,1050.9 895.2,1043.5 895.7,1036.3 896.2,1029.2 896.7,1022.4 897.2,1015.6 897.7,1009.1 898.2,1002.7 898.7,996.6 899.2,990.6 899.7,984.8 900.2,979.3 900.7,973.9 901.2,968.8 901.7,963.9 902.2,959.2 902.7,954.7 903.2,950.4 903.7,946.4 904.2,942.6 904.7,939.0 905.2,935.7 905.7,932.6 906.2,929.7 906.7,927.0 907.2,924.5 907.7,922.3 908.2,920.3 908.7,918.4 909.2,916.8 909.7,915.4 910.2,914.2 910.7,913.1 911.2,912.2 911.7,911.5 912.2,911.0 912.7,910.5 913.2,910.2 913.7,910.1 914.2,910.0 914.3,910.0 914.8,910.0 915.3,910.1 915.8,910.3 916.3,910.6 916.8,910.9 917.3,911.4 917.8,912.0 918.3,912.6 918.8,913.4 919.3,914.3 919.8,915.4 920.3,916.5 920.8,917.8 921.3,919.3 921.8,920.9 922.3,922.6 922.8,924.5 923.3,926.5 923.8,928.7 924.3,931.0 924.8,933.5 925.3,936.1 925.8,938.9 926.3,941.9 926.8,945.0 927.3,948.3 927.8,951.7 928.3,955.3 928.8,959.1 929.3,963.0 929.8,967.0 930.3,971.2 930.8,975.6 931.3,980.1 931.8,984.8 932.3,989.6 932.8,994.5 933.3,999.6 933.8,1004.8 934.3,1010.2 934.8,1015.6 935.3,1021.2 935.8,1027.0 936.3,1032.8 936.8,1038.8 937.3,1044.8 937.8,1051.0 938.3,1057.3 938.8,1063.6 939.3,1070.1 939.8,1076.6 940.3,1083.3 940.8,1090.0 941.3,1096.7 941.8,1103.6 942.3,1110.5 942.8,1117.4 943.3,1124.4 943.8,1131.5 944.3,1138.6 944.8,1145.7 945.3,1152.8 945.8,1160.0 946.3,1167.2 946.8,1174.4 947.3,1181.6 947.8,1188.8 948.3,1196.0 948.8,1203.2 949.3,1210.4 949.8,1217.5 950.3,1224.6 950.8,1231.7 951.3,1238.8 951.8,1245.8 952.3,1252.7 952.8,1259.6 953.3,1266.4 953.8,1273.2 954.3,1279.9 954.8,1286.5 955.3,1293.0 955.8,1299.5 956.3,1305.8 956.8,1312.1 957.3,1318.2 957.8,1324.2 958.3,1330.2 958.8,1336.0 959.3,1341.7 959.8,1347.3 960.3,1352.7 960.8,1358.0 961.3,1363.2 961.8,1368.3 962.3,1373.2 962.8,1378.0 963.3,1382.6 963.8,1387.1 964.3,1391.4 964.8,1395.6 965.3,1399.6 965.8,1403.5 966.3,1407.2 966.8,1410.8 967.3,1414.2 967.8,1417.4 968.3,1420.5 968.8,1423.4 969.3,1426.2 969.8,1428.8 970.3,1431.3 970.8,1433.6 971.3,1435.7 971.8,1437.7 972.3,1439.6 972.8,1441.3 973.3,1442.8 973.8,1444.2 974.3,1445.5 974.8,1446.7 975.3,1447.7 975.8,1448.6 976.3,1449.3 976.8,1450.0 977.3,1450.5 977.8,1450.9 978.3,1451.3 978.8,1451.5 979.3,1451.7 979.8,1451.8 980.2,1451.8 980.7,1451.7 981.2,1451.5 981.7,1451.1 982.2,1450.5 982.7,1449.8 983.2,1449.0 983.7,1447.9 984.2,1446.7 984.7,1445.4 985.2,1443.9 985.7,1442.2 986.2,1440.4 986.7,1438.4 987.2,1436.3 987.7,1434.0 988.2,1431.6 988.7,1429.0 989.2,1426.2 989.7,1423.3 990.2,1420.2 990.7,1416.9 991.2,1413.5 991.7,1410.0 992.2,1406.3 992.7,1402.4 993.0,1400.0" fill="none" stroke="#0f0f80" stroke-width="2.1" stroke-linejoin="round"/>
<path d="M1240.7,1299.6 1241.2,1299.8 1241.7,1300.2 1242.2,1300.8 1242.7,1301.6 1243.2,1302.3 1243.7,1303.2 1244.2,1304.4 1244.7,1305.9 1245.2,1307.5 1245.7,1309.4 1246.2,1311.4 1246.7,1313.8 1247.2,1316.8 1247.7,1320.2 1248.2,1323.6 1248.7,1326.9 1249.2,1329.9 1249.7,1332.9 1250.2,1335.8 1250.7,1338.7 1251.2,1341.7 1251.7,1344.6 1252.2,1347.6 1252.7,1350.5 1253.2,1353.5 1253.7,1356.4 1254.2,1359.3 1254.7,1362.2 1255.2,1365.3 1255.7,1368.4 1256.2,1371.7 1256.7,1375.0 1257.2,1378.4 1257.7,1381.9 1258.2,1385.5 1258.7,1389.1 1259.2,1392.7 1259.7,1396.4 1260.2,1400.0 1260.7,1403.7 1261.2,1407.3 1261.7,1410.9 1262.2,1414.4 1262.7,1417.9 1263.2,1421.3 1263.7,1424.6 1264.2,1427.8 1264.7,1430.9 1265.2,1433.9 1265.7,1436.7 1266.2,1439.4 1266.7,1441.9 1267.2,1444.2 1267.7,1446.4 1268.2,1448.3 1268.7,1450.0 1269.2,1451.5 1269.7,1452.7 1270.2,1453.6 1270.7,1454.3 1271.2,1454.7 1271.6,1454.8 1272.1,1454.7 1272.6,1454.4 1273.1,1453.9 1273.6,1453.2 1274.1,1452.2 1274.6,1451.0 1275.1,1449.6 1275.6,1447.8 1276.1,1445.8 1276.6,1443.5 1277.1,1441.0 1277.6,1438.1 1278.1,1435.0 1278.6,1431.5 1279.1,1427.8 1279.6,1423.8 1280.1,1419.5 1280.6,1414.9 1281.1,1410.0 1281.6,1404.8 1282.1,1399.4 1282.6,1393.6 1283.1,1387.6 1283.6,1381.4 1284.1,1374.9 1284.6,1368.1 1285.1,1361.1 1285.6,1353.8 1286.1,1346.4 1286.6,1338.7 1287.1,1330.8 1287.6,1322.8 1288.1,1314.6 1288.6,1306.2 1289.1,1297.6 1289.6,1288.9 1290.1,1280.1 1290.6,1271.1 1291.1,1262.1 1291.6,1253.0 1292.1,1243.8 1292.6,1234.5 1293.1,1225.2 1293.6,1215.9 1294.1,1206.5 1294.6,1197.2 1295.1,1187.8 1295.6,1178.5 1296.1,1169.3 1296.6,1160.1 1297.1,1150.9 1297.6,1141.9 1298.1,1132.9 1298.6,1124.1 1299.1,1115.3 1299.6,1106.7 1300.1,1098.3 1300.6,1090.0 1301.1,1081.9 1301.6,1074.0 1302.1,1066.3 1302.6,1058.8 1303.1,1051.5 1303.6,1044.5 1304.1,1037.7 1304.6,1031.1 1305.1,1024.8 1305.6,1018.7 1306.1,1013.0 1306.6,1007.4 1307.1,1002.2 1307.6,997.3 1308.1,992.6 1308.6,988.2 1309.1,984.2 1309.6,980.4 1310.1,976.9 1310.6,973.7 1311.1,970.8 1311.6,968.2 1312.1,965.8 1312.6,963.8 1313.1,962.0 1313.6,960.5 1314.1,959.2 1314.6,958.2 1315.1,957.4 1315.6,956.9 1316.1,956.5 1316.6,956.4 1316.7,956.4 1317.2,956.5 1317.7,956.7 1318.2,957.1 1318.7,957.7 1319.2,958.5 1319.7,959.5 1320.2,960.7 1320.7,962.1 1321.2,963.8 1321.7,965.7 1322.2,967.8 1322.7,970.1 1323.2,972.7 1323.7,975.5 1324.2,978.6 1324.7,981.9 1325.2,985.4 1325.7,989.2 1326.2,993.2 1326.7,997.5 1327.2,1002.0 1327.7,1006.8 1328.2,1011.8 1328.7,1017.0 1329.2,1022.4 1329.7,1028.0 1330.2,1033.9 1330.7,1040.0 1331.2,1046.3 1331.7,1052.7 1332.2,1059.4 1332.7,1066.2 1333.2,1073.2 1333.7,1080.4 1334.2,1087.7 1334.7,1095.1 1335.2,1102.7 1335.7,1110.5 1336.2,1118.3 1336.7,1126.3 1337.2,1134.3 1337.7,1142.4 1338.2,1150.6 1338.7,1158.9 1339.2,1167.2 1339.7,1175.6 1340.2,1184.0 1340.7,1192.4 1341.2,1200.8 1341.7,1209.3 1342.2,1217.7 1342.7,1226.1 1343.2,1234.4 1343.7,1242.8 1344.2,1251.0 1344.7,1259.2 1345.2,1267.3 1345.7,1275.3 1346.2,1283.3 1346.7,1291.1 1347.2,1298.8 1347.7,1306.4 1348.2,1313.8 1348.7,1321.1 1349.2,1328.2 1349.7,1335.2 1350.2,1342.0 1350.7,1348.6 1351.2,1355.0 1351.7,1361.2 1352.2,1367.3 1352.7,1373.1 1353.2,1378.7 1353.7,1384.1 1354.2,1389.3 1354.7,1394.2 1355.2,1398.9 1355.7,1403.4 1356.2,1407.6 1356.7,1411.6 1357.2,1415.3 1357.7,1418.8 1358.2,1422.1 1358.7,1425.1 1359.2,1427.9 1359.7,1430.4 1360.2,1432.7 1360.7,1434.7 1361.2,1436.6 1361.7,1438.2 1362.2,1439.5 1362.7,1440.7 1363.2,1441.7 1363.7,1442.4 1364.2,1443.0 1364.7,1443.3 1365.2,1443.6 1365.6,1443.6 1366.1,1443.5 1366.6,1443.1 1367.1,1442.4 1367.6,1441.5 1368.1,1440.2 1368.6,1438.6 1369.1,1436.6 1369.6,1434.3 1370.1,1431.7 1370.6,1428.6 1371.1,1425.2 1371.6,1421.4 1372.1,1417.2 1372.6,1412.7 1373.1,1407.7 1373.6,1402.4 1374.1,1396.7 1374.6,1390.7 1375.1,1384.3 1375.6,1377.5 1376.1,1370.4 1376.6,1363.0 1377.1,1355.2 1377.6,1347.2 1378.1,1338.8 1378.6,1330.2 1379.1,1321.3 1379.6,1312.2 1380.1,1302.9 1380.6,1293.4 1381.1,1283.6 1381.6,1273.8 1382.1,1263.7 1382.6,1253.6 1383.1,1243.3 1383.6,1233.0 1384.1,1222.6 1384.6,1212.1 1385.1,1201.7 1385.6,1191.2 1386.1,1180.8 1386.6,1170.4 1387.1,1160.1 1387.6,1149.9 1388.1,1139.7 1388.6,1129.8 1389.1,1119.9 1389.6,1110.3 1390.1,1100.8 1390.6,1091.6 1391.1,1082.6 1391.6,1073.8 1392.1,1065.3 1392.6,1057.1 1393.1,1049.2 1393.6,1041.5 1394.1,1034.2 1394.6,1027.3 1395.1,1020.6 1395.6,1014.4 1396.1,1008.5 1396.6,1002.9 1397.1,997.8 1397.6,993.0 1398.1,988.6 1398.6,984.5 1399.1,980.9 1399.6,977.6 1400.1,974.7 1400.6,972.2 1401.1,970.0 1401.6,968.2 1402.1,966.8 1402.6,965.6 1403.1,964.8 1403.6,964.2 1404.1,963.9 1404.4,963.9 1404.9,964.0 1405.4,964.3 1405.9,964.7 1406.4,965.4 1406.9,966.3 1407.4,967.4 1407.9,968.7 1408.4,970.3 1408.9,972.1 1409.4,974.2 1409.9,976.5 1410.4,979.1 1410.9,982.0 1411.4,985.1 1411.9,988.5 1412.4,992.2 1412.9,996.1 1413.4,1000.3 1413.9,1004.8 1414.4,1009.5 1414.9,1014.5 1415.4,1019.8 1415.9,1025.3 1416.4,1031.0 1416.9,1037.0 1417.4,1043.2 1417.9,1049.6 1418.4,1056.3 1418.9,1063.1 1419.4,1070.2 1419.9,1077.5 1420.4,1084.9 1420.9,1092.5 1421.4,1100.2 1421.9,1108.2 1422.4,1116.2 1422.9,1124.4 1423.4,1132.7 1423.9,1141.1 1424.4,1149.6 1424.9,1158.1 1425.4,1166.8 1425.9,1175.4 1426.4,1184.2 1426.9,1192.9 1427.4,1201.7 1427.9,1210.5 1428.4,1219.2 1428.9,1228.0 1429.4,1236.7 1429.9,1245.3 1430.4,1253.9 1430.9,1262.4 1431.4,1270.9 1431.9,1279.2 1432.4,1287.4 1432.9,1295.5 1433.4,1303.5 1433.9,1311.3 1434.4,1319.0 1434.9,1326.5 1435.4,1333.8 1435.9,1341.0 1436.4,1347.9 1436.9,1354.6 1437.4,1361.2 1437.9,1367.5 1438.4,1373.5 1438.9,1379.4 1439.4,1385.0 1439.9,1390.3 1440.4,1395.4 1440.9,1400.2 1441.4,1404.8 1441.9,1409.1 1442.4,1413.2 1442.9,1416.9 1443.4,1420.5 1443.9,1423.7 1444.4,1426.7 1444.9,1429.4 1445.4,1431.8 1445.9,1434.0 1446.4,1435.9 1446.9,1437.6 1447.4,1439.0 1447.9,1440.2 1448.4,1441.2 1448.9,1442.0 1449.4,1442.5 1449.9,1442.8 1450.4,1443.0 1450.6,1443.0 1451.1,1442.9 1451.6,1442.6 1452.1,1442.0 1452.6,1441.2 1453.1,1440.2 1453.6,1438.8 1454.1,1437.2 1454.6,1435.3 1455.1,1433.1 1455.6,1430.6 1456.1,1427.8 1456.6,1424.7 1457.1,1421.2 1457.6,1417.4 1458.1,1413.3 1458.6,1408.9 1459.1,1404.2 1459.6,1399.1 1460.1,1393.8 1460.6,1388.1 1461.1,1382.2 1461.6,1375.9 1462.1,1369.4 1462.6,1362.5 1463.1,1355.4 1463.6,1348.1 1464.1,1340.5 1464.6,1332.7 1465.1,1324.6 1465.6,1316.3 1466.1,1307.9 1466.6,1299.2 1467.1,1290.4 1467.6,1281.4 1468.1,1272.2 1468.6,1263.0 1469.1,1253.6 1469.6,1244.1 1470.1,1234.6 1470.6,1225.0 1471.1,1215.3 1471.6,1205.6 1472.1,1195.9 1472.6,1186.2 1473.1,1176.5 1473.6,1166.9 1474.1,1157.3 1474.6,1147.7 1475.1,1138.3 1475.6,1128.9 1476.1,1119.7 1476.6,1110.6 1477.1,1101.7 1477.6,1092.9 1478.1,1084.2 1478.6,1075.8 1479.1,1067.6 1479.6,1059.6 1480.1,1051.8 1480.6,1044.2 1481.1,1036.9 1481.6,1029.9 1482.1,1023.1 1482.6,1016.6 1483.1,1010.4 1483.6,1004.5 1484.1,998.9 1484.6,993.6 1485.1,988.6 1485.6,984.0 1486.1,979.6 1486.6,975.6 1487.1,971.9 1487.6,968.5 1488.1,965.4 1488.6,962.7 1489.1,960.2 1489.6,958.1 1490.1,956.2 1490.6,954.7 1491.1,953.4 1491.6,952.4 1492.1,951.6 1492.6,951.1 1493.1,950.9 1493.5,950.8 1494.0,950.9 1494.5,951.2 1495.0,951.7 1495.5,952.4 1496.0,953.4 1496.5,954.7 1497.0,956.2 1497.5,957.9 1498.0,960.0 1498.5,962.3 1499.0,964.9 1499.5,967.8 1500.0,971.0 1500.5,974.6 1501.0,978.4 1501.5,982.5 1502.0,986.9 1502.5,991.6 1503.0,996.5 1503.5,1001.8 1504.0,1007.4 1504.5,1013.2 1505.0,1019.3 1505.5,1025.7 1506.0,1032.4 1506.5,1039.2 1507.0,1046.4 1507.5,1053.7 1508.0,1061.3 1508.5,1069.1 1509.0,1077.1 1509.5,1085.3 1510.0,1093.6 1510.5,1102.1 1511.0,1110.8 1511.5,1119.6 1512.0,1128.5 1512.5,1137.5 1513.0,1146.6 1513.5,1155.8 1514.0,1165.1 1514.5,1174.4 1515.0,1183.8 1515.5,1193.1 1516.0,1202.5 1516.5,1211.9 1517.0,1221.2 1517.5,1230.6 1518.0,1239.8 1518.5,1249.0 1519.0,1258.1 1519.5,1267.1 1520.0,1276.0 1520.5,1284.8 1521.0,1293.4 1521.5,1301.9 1522.0,1310.2 1522.5,1318.3 1523.0,1326.3 1523.5,1334.0 1524.0,1341.6 1524.5,1348.9 1525.0,1356.0 1525.5,1362.8 1526.0,1369.4 1526.5,1375.7 1527.0,1381.8 1527.5,1387.5 1528.0,1393.1 1528.5,1398.3 1529.0,1403.2 1529.5,1407.8 1530.0,1412.2 1530.5,1416.2 1531.0,1420.0 1531.5,1423.4 1532.0,1426.6 1532.5,1429.4 1533.0,1432.0 1533.5,1434.3 1534.0,1436.2 1534.5,1438.0 1535.0,1439.4 1535.5,1440.6 1536.0,1441.5 1536.5,1442.2 1537.0,1442.7 1537.5,1442.9 1537.9,1443.0 1538.4,1442.9 1538.9,1442.6 1539.4,1442.1 1539.9,1441.4 1540.4,1440.5 1540.9,1439.3 1541.4,1437.9 1541.9,1436.2 1542.4,1434.2 1542.9,1432.0 1543.4,1429.5 1543.9,1426.8 1544.4,1423.7 1544.9,1420.3 1545.4,1416.7 1545.9,1412.8 1546.4,1408.6 1546.9,1404.1 1547.4,1399.3 1547.9,1394.3 1548.4,1389.0 1548.9,1383.4 1549.4,1377.5 1549.9,1371.4 1550.4,1365.0 1550.9,1358.4 1551.4,1351.5 1551.9,1344.4 1552.4,1337.1 1552.9,1329.5 1553.4,1321.8 1553.9,1313.9 1554.4,1305.8 1554.9,1297.5 1555.4,1289.0 1555.9,1280.4 1556.4,1271.7 1556.9,1262.9 1557.4,1253.9 1557.9,1244.8 1558.4,1235.7 1558.9,1226.5 1559.4,1217.2 1559.9,1207.9 1560.4,1198.5 1560.9,1189.2 1561.4,1179.8 1561.9,1170.5 1562.4,1161.1 1562.9,1151.8 1563.4,1142.6 1563.9,1133.4 1564.4,1124.3 1564.9,1115.3 1565.4,1106.4 1565.9,1097.6 1566.4,1089.0 1566.9,1080.5 1567.4,1072.1 1567.9,1064.0 1568.4,1056.0 1568.9,1048.1 1569.4,1040.5 1569.9,1033.1 1570.4,1025.9 1570.9,1019.0 1571.4,1012.2 1571.9,1005.8 1572.4,999.5 1572.9,993.6 1573.4,987.9 1573.9,982.4 1574.4,977.3 1574.9,972.4 1575.4,967.8 1575.9,963.4 1576.4,959.4 1576.9,955.7 1577.4,952.2 1577.9,949.0 1578.4,946.1 1578.9,943.5 1579.4,941.2 1579.9,939.1 1580.4,937.4 1580.9,935.8 1581.4,934.6 1581.9,933.5 1582.4,932.7 1582.9,932.1 1583.4,931.8 1583.9,931.6 1584.1,931.6 1584.6,931.7 1585.1,932.0 1585.6,932.4 1586.1,933.1 1586.6,934.0 1587.1,935.2 1587.6,936.5 1588.1,938.2 1588.6,940.0 1589.1,942.2 1589.6,944.6 1590.1,947.2 1590.6,950.2 1591.1,953.4 1591.6,956.9 1592.1,960.7 1592.6,964.7 1593.1,969.1 1593.6,973.7 1594.1,978.5 1594.6,983.7 1595.1,989.1 1595.6,994.7 1596.1,1000.6 1596.6,1006.8 1597.1,1013.2 1597.6,1019.8 1598.1,1026.7 1598.6,1033.8 1599.1,1041.1 1599.6,1048.6 1600.1,1056.2 1600.6,1064.1 1601.1,1072.1 1601.6,1080.3 1602.1,1088.6 1602.6,1097.1 1603.1,1105.7 1603.6,1114.4 1604.1,1123.2 1604.6,1132.1 1605.1,1141.1 1605.6,1150.1 1606.1,1159.2 1606.6,1168.3 1607.1,1177.5 1607.6,1186.6 1608.1,1195.8 1608.6,1204.9 1609.1,1214.0 1609.6,1223.1 1610.1,1232.1 1610.6,1241.1 1611.1,1249.9 1611.6,1258.7 1612.1,1267.3 1612.6,1275.9 1613.1,1284.3 1613.6,1292.6 1614.1,1300.7 1614.6,1308.7 1615.1,1316.5 1615.6,1324.1 1616.1,1331.5 1616.6,1338.7 1617.1,1345.7 1617.6,1352.4 1618.1,1359.0 1618.6,1365.3 1619.1,1371.4 1619.6,1377.2 1620.1,1382.7 1620.6,1388.0 1621.1,1393.0 1621.6,1397.8 1622.1,1402.3 1622.6,1406.5 1623.1,1410.5 1623.6,1414.1 1624.1,1417.5 1624.6,1420.6 1625.1,1423.5 1625.6,1426.0 1626.1,1428.3 1626.6,1430.4 1627.1,1432.1 1627.6,1433.7 1628.1,1434.9 1628.6,1436.0 1629.1,1436.8 1629.6,1437.4 1630.1,1437.8 1630.6,1438.0 1630.9,1438.0 1631.4,1437.9 1631.9,1437.6 1632.4,1437.1 1632.9,1436.4 1633.4,1435.4 1633.9,1434.2 1634.4,1432.8 1634.9,1431.0 1635.4,1429.0 1635.9,1426.8 1636.4,1424.2 1636.9,1421.3 1637.4,1418.2 1637.9,1414.8 1638.4,1411.1 1638.9,1407.0 1639.4,1402.7 1639.9,1398.1 1640.4,1393.2 1640.9,1388.1 1641.4,1382.6 1641.9,1376.9 1642.4,1370.9 1642.9,1364.6 1643.4,1358.1 1643.9,1351.3 1644.4,1344.2 1644.9,1337.0 1645.4,1329.5 1645.9,1321.8 1646.4,1313.9 1646.9,1305.7 1647.4,1297.5 1647.9,1289.0 1648.4,1280.4 1648.9,1271.6 1649.4,1262.7 1649.9,1253.6 1650.4,1244.5 1650.9,1235.3 1651.4,1225.9 1651.9,1216.5 1652.4,1207.1 1652.9,1197.6 1653.4,1188.1 1653.9,1178.5 1654.4,1169.0 1654.9,1159.5 1655.4,1150.0 1655.9,1140.6 1656.4,1131.2 1656.9,1121.9 1657.4,1112.7 1657.9,1103.5 1658.4,1094.5 1658.9,1085.6 1659.4,1076.9 1659.9,1068.3 1660.4,1059.9 1660.9,1051.6 1661.4,1043.5 1661.9,1035.7 1662.4,1028.0 1662.9,1020.6 1663.4,1013.3 1663.9,1006.4 1664.4,999.6 1664.9,993.1 1665.4,986.9 1665.9,981.0 1666.4,975.3 1666.9,969.9 1667.4,964.8 1667.9,959.9 1668.4,955.4 1668.9,951.1 1669.4,947.2 1669.9,943.5 1670.4,940.1 1670.9,937.1 1671.4,934.3 1671.9,931.8 1672.4,929.6 1672.9,927.6 1673.4,925.9 1673.9,924.5 1674.4,923.4 1674.9,922.4 1675.4,921.8 1675.9,921.3 1676.4,921.1 1676.8,921.0 1677.3,921.1 1677.8,921.4 1678.3,921.9 1678.8,922.6 1679.3,923.5 1679.8,924.7 1680.3,926.1 1680.8,927.8 1681.3,929.8 1681.8,932.0 1682.3,934.5 1682.8,937.3 1683.3,940.4 1683.8,943.7 1684.3,947.4 1684.8,951.3 1685.3,955.5 1685.8,960.0 1686.3,964.8 1686.8,969.9 1687.3,975.2 1687.8,980.8 1688.3,986.7 1688.8,992.9 1689.3,999.3 1689.8,1006.0 1690.3,1012.9 1690.8,1020.0 1691.3,1027.4 1691.8,1034.9 1692.3,1042.7 1692.8,1050.7 1693.3,1058.9 1693.8,1067.2 1694.3,1075.7 1694.8,1084.4 1695.3,1093.2 1695.8,1102.1 1696.3,1111.2 1696.8,1120.3 1697.3,1129.6 1697.8,1138.9 1698.3,1148.2 1698.8,1157.7 1699.3,1167.1 1699.8,1176.6 1700.3,1186.1 1700.8,1195.6 1701.3,1205.0 1701.8,1214.5 1702.3,1223.9 1702.8,1233.2 1703.3,1242.4 1703.8,1251.6 1704.3,1260.7 1704.8,1269.6 1705.3,1278.4 1705.8,1287.1 1706.3,1295.7 1706.8,1304.1 1707.3,1312.3 1707.8,1320.3 1708.3,1328.1 1708.8,1335.7 1709.3,1343.1 1709.8,1350.3 1710.3,1357.3 1710.8,1364.0 1711.3,1370.4 1711.8,1376.7 1712.3,1382.6 1712.8,1388.3 1713.3,1393.7 1713.8,1398.8 1714.3,1403.6 1714.8,1408.2 1715.3,1412.5 1715.8,1416.5 1716.3,1420.2 1716.8,1423.6 1717.3,1426.7 1717.8,1429.6 1718.3,1432.1 1718.8,1434.4 1719.3,1436.4 1719.8,1438.1 1720.3,1439.6 1720.8,1440.9 1721.3,1441.9 1721.8,1442.6 1722.3,1443.1 1722.8,1443.5 1723.3,1443.6 1723.4,1443.6 1723.9,1443.5 1724.4,1443.2 1724.9,1442.7 1725.4,1441.9 1725.9,1440.9 1726.4,1439.6 1726.9,1438.0 1727.4,1436.2 1727.9,1434.1 1728.4,1431.7 1728.9,1428.9 1729.4,1425.9 1729.9,1422.6 1730.4,1419.0 1730.9,1415.0 1731.4,1410.8 1731.9,1406.2 1732.4,1401.3 1732.9,1396.1 1733.4,1390.6 1733.9,1384.9 1734.4,1378.8 1734.9,1372.4 1735.4,1365.8 1735.9,1358.9 1736.4,1351.7 1736.9,1344.3 1737.4,1336.7 1737.9,1328.8 1738.4,1320.6 1738.9,1312.3 1739.4,1303.8 1739.9,1295.1 1740.4,1286.2 1740.9,1277.1 1741.4,1267.9 1741.9,1258.6 1742.4,1249.1 1742.9,1239.6 1743.4,1229.9 1743.9,1220.2 1744.4,1210.4 1744.9,1200.5 1745.4,1190.7 1745.9,1180.8 1746.4,1170.9 1746.9,1161.1 1747.4,1151.2 1747.9,1141.4 1748.4,1131.7 1748.9,1122.0 1749.4,1112.5 1749.9,1103.0 1750.4,1093.7 1750.9,1084.5 1751.4,1075.4 1751.9,1066.5 1752.4,1057.8 1752.9,1049.3 1753.4,1041.0 1753.9,1032.8 1754.4,1024.9 1754.9,1017.3 1755.4,1009.9 1755.9,1002.7 1756.4,995.8 1756.9,989.2 1757.4,982.8 1757.9,976.7 1758.4,971.0 1758.9,965.5 1759.4,960.3 1759.9,955.4 1760.4,950.8 1760.9,946.6 1761.4,942.6 1761.9,939.0 1762.4,935.7 1762.9,932.7 1763.4,929.9 1763.9,927.5 1764.4,925.4 1764.9,923.6 1765.4,922.0 1765.9,920.7 1766.4,919.7 1766.9,918.9 1767.4,918.4 1767.9,918.1 1768.4,918.0 1768.9,918.1 1769.4,918.4 1769.9,918.9 1770.4,919.7 1770.9,920.8 1771.4,922.1 1771.9,923.6 1772.4,925.5 1772.9,927.6 1773.4,930.1 1773.9,932.8 1774.4,935.9 1774.9,939.2 1775.4,942.9 1775.9,946.9 1776.4,951.2 1776.9,955.8 1777.4,960.7 1777.9,966.0 1778.4,971.5 1778.9,977.4 1779.4,983.5 1779.9,989.9 1780.4,996.6 1780.9,1003.6 1781.4,1010.9 1781.9,1018.4 1782.4,1026.1 1782.9,1034.1 1783.4,1042.3 1783.9,1050.7 1784.4,1059.4 1784.9,1068.2 1785.4,1077.2 1785.9,1086.3 1786.4,1095.6 1786.9,1105.1 1787.4,1114.7 1787.9,1124.3 1788.4,1134.1 1788.9,1144.0 1789.4,1153.9 1789.9,1163.8 1790.4,1173.8 1790.9,1183.8 1791.4,1193.9 1791.9,1203.9 1792.4,1213.8 1792.9,1223.8 1793.4,1233.6 1793.9,1243.4 1794.4,1253.1 1794.9,1262.7 1795.4,1272.2 1795.9,1281.5 1796.4,1290.7 1796.9,1299.7 1797.4,1308.6 1797.9,1317.3 1798.4,1325.7 1798.9,1334.0 1799.4,1342.0 1799.9,1349.8 1800.4,1357.4 1800.9,1364.7 1801.4,1371.7 1801.9,1378.5 1802.4,1384.9 1802.9,1391.1 1803.4,1397.0 1803.9,1402.6 1804.4,1407.9 1804.9,1412.9 1805.4,1417.6 1805.9,1422.0 1806.4,1426.0 1806.9,1429.8 1807.4,1433.2 1807.9,1436.3 1808.4,1439.1 1808.9,1441.6 1809.4,1443.8 1809.9,1445.7 1810.4,1447.4 1810.9,1448.7 1811.4,1449.8 1811.9,1450.6 1812.4,1451.2 1812.9,1451.6 1813.4,1451.7 1813.5,1451.7 1814.0,1451.6 1814.5,1451.3 1815.0,1450.8 1815.5,1450.0 1816.0,1448.9 1816.5,1447.6 1817.0,1446.1 1817.5,1444.2 1818.0,1442.1 1818.5,1439.6 1819.0,1436.9 1819.5,1433.8 1820.0,1430.5 1820.5,1426.8 1821.0,1422.8 1821.5,1418.5 1822.0,1413.8 1822.5,1408.9 1823.0,1403.7 1823.5,1398.1 1824.0,1392.3 1824.5,1386.1 1825.0,1379.7 1825.5,1372.9 1826.0,1366.0 1826.5,1358.7 1827.0,1351.2 1827.5,1343.4 1828.0,1335.4 1828.5,1327.1 1829.0,1318.7 1829.5,1310.0 1830.0,1301.2 1830.5,1292.1 1831.0,1282.9 1831.5,1273.6 1832.0,1264.1 1832.5,1254.4 1833.0,1244.7 1833.5,1234.9 1834.0,1224.9 1834.5,1214.9 1835.0,1204.9 1835.5,1194.8 1836.0,1184.7 1836.5,1174.6 1837.0,1164.5 1837.5,1154.5 1838.0,1144.5 1838.5,1134.5 1839.0,1124.6 1839.5,1114.8 1840.0,1105.0 1840.5,1095.4 1841.0,1086.0 1841.5,1076.6 1842.0,1067.5 1842.5,1058.5 1843.0,1049.6 1843.5,1041.0 1844.0,1032.6 1844.5,1024.4 1845.0,1016.4 1845.5,1008.7 1846.0,1001.2 1846.5,994.0 1847.0,987.1 1847.5,980.4 1848.0,974.0 1848.5,967.9 1849.0,962.2 1849.5,956.7 1850.0,951.5 1850.5,946.6 1851.0,942.0 1851.5,937.8 1852.0,933.9 1852.5,930.2 1853.0,926.9 1853.5,923.9 1854.0,921.3 1854.5,918.9 1855.0,916.8 1855.5,915.0 1856.0,913.5 1856.5,912.2 1857.0,911.3 1857.5,910.5 1858.0,910.0 1858.5,909.8 1858.9,909.7 1859.4,909.8 1859.9,910.1 1860.4,910.6 1860.9,911.4 1861.4,912.3 1861.9,913.6 1862.4,915.1 1862.9,916.8 1863.4,918.9 1863.9,921.2 1864.4,923.8 1864.9,926.8 1865.4,930.0 1865.9,933.5 1866.4,937.3 1866.9,941.4 1867.4,945.8 1867.9,950.5 1868.4,955.6 1868.9,960.9 1869.4,966.5 1869.9,972.3 1870.4,978.5 1870.9,984.9 1871.4,991.6 1871.9,998.6 1872.4,1005.8 1872.9,1013.3 1873.4,1021.0 1873.9,1028.9 1874.4,1037.1 1874.9,1045.4 1875.4,1053.9 1875.9,1062.6 1876.4,1071.5 1876.9,1080.6 1877.4,1089.8 1877.9,1099.1 1878.4,1108.5 1878.9,1118.1 1879.4,1127.7 1879.9,1137.4 1880.4,1147.2 1880.9,1157.0 1881.4,1166.9 1881.9,1176.7 1882.4,1186.6 1882.9,1196.5 1883.4,1206.4 1883.9,1216.2 1884.4,1225.9 1884.9,1235.6 1885.4,1245.3 1885.9,1254.8 1886.4,1264.2 1886.9,1273.5 1887.4,1282.6 1887.9,1291.7 1888.4,1300.5 1888.9,1309.2 1889.4,1317.7 1889.9,1326.0 1890.4,1334.1 1890.9,1342.0 1891.4,1349.6 1891.9,1357.0 1892.4,1364.2 1892.9,1371.1 1893.4,1377.8 1893.9,1384.2 1894.4,1390.3 1894.9,1396.1 1895.4,1401.6 1895.9,1406.9 1896.4,1411.8 1896.9,1416.5 1897.4,1420.8 1897.9,1424.9 1898.4,1428.6 1898.9,1432.1 1899.4,1435.2 1899.9,1438.1 1900.4,1440.7 1900.9,1442.9 1901.4,1444.9 1901.9,1446.6 1902.4,1448.1 1902.9,1449.3 1903.4,1450.2 1903.9,1450.9 1904.4,1451.4 1904.9,1451.6 1905.3,1451.7 1905.8,1451.6 1906.3,1451.3 1906.8,1450.7 1907.3,1450.0 1907.8,1448.9 1908.3,1447.6 1908.8,1446.0 1909.3,1444.2 1909.8,1442.0 1910.3,1439.5 1910.8,1436.8 1911.3,1433.7 1911.8,1430.3 1912.3,1426.6 1912.8,1422.6 1913.3,1418.2 1913.8,1413.6 1914.3,1408.6 1914.8,1403.4 1915.3,1397.8 1915.8,1391.9 1916.3,1385.7 1916.8,1379.2 1917.3,1372.5 1917.8,1365.5 1918.3,1358.2 1918.8,1350.6 1919.3,1342.9 1919.8,1334.8 1920.3,1326.6 1920.8,1318.1 1921.3,1309.5 1921.8,1300.6 1922.3,1291.6 1922.8,1282.4 1923.3,1273.1 1923.8,1263.6 1924.3,1254.0 1924.8,1244.3 1925.3,1234.5 1925.8,1224.7 1926.3,1214.8 1926.8,1204.8 1927.3,1194.8 1927.8,1184.9 1928.3,1174.9 1928.8,1164.9 1929.3,1155.0 1929.8,1145.1 1930.3,1135.3 1930.8,1125.6 1931.3,1115.9 1931.8,1106.4 1932.3,1097.0 1932.8,1087.8 1933.3,1078.7 1933.8,1069.8 1934.3,1061.0 1934.8,1052.5 1935.3,1044.1 1935.8,1036.0 1936.3,1028.1 1936.8,1020.5 1937.3,1013.1 1937.8,1006.0 1938.3,999.1 1938.8,992.5 1939.3,986.2 1939.8,980.2 1940.3,974.5 1940.8,969.1 1941.3,964.1 1941.8,959.3 1942.3,954.8 1942.8,950.7 1943.3,946.8 1943.8,943.3 1944.3,940.1 1944.8,937.2 1945.3,934.6 1945.8,932.4 1946.3,930.4 1946.8,928.7 1947.3,927.3 1947.8,926.1 1948.3,925.2 1948.8,924.6 1949.3,924.2 1949.8,924.0 1950.0,924.0 1950.5,924.1 1951.0,924.4 1951.5,924.8 1952.0,925.5 1952.5,926.4 1953.0,927.6 1953.5,928.9 1954.0,930.6 1954.5,932.4 1955.0,934.6 1955.5,937.0 1956.0,939.7 1956.5,942.6 1957.0,945.8 1957.5,949.3 1958.0,953.1 1958.5,957.2 1959.0,961.5 1959.5,966.1 1960.0,971.0 1960.5,976.2 1961.0,981.6 1961.5,987.3 1962.0,993.2 1962.5,999.4 1963.0,1005.9 1963.5,1012.5 1964.0,1019.4 1964.5,1026.6 1965.0,1033.9 1965.5,1041.5 1966.0,1049.2 1966.5,1057.2 1967.0,1065.3 1967.5,1073.6 1968.0,1082.0 1968.5,1090.6 1969.0,1099.3 1969.5,1108.2 1970.0,1117.1 1970.5,1126.2 1971.0,1135.3 1971.5,1144.5 1972.0,1153.8 1972.5,1163.1 1973.0,1172.5 1973.5,1181.9 1974.0,1191.3 1974.5,1200.7 1975.0,1210.1 1975.5,1219.4 1976.0,1228.7 1976.5,1238.0 1977.0,1247.2 1977.5,1256.3 1978.0,1265.3 1978.5,1274.2 1979.0,1283.0 1979.5,1291.7 1980.0,1300.2 1980.5,1308.6 1981.0,1316.8 1981.5,1324.8 1982.0,1332.7 1982.5,1340.4 1983.0,1347.8 1983.5,1355.1 1984.0,1362.2 1984.5,1369.0 1985.0,1375.5 1985.5,1381.9 1986.0,1388.0 1986.5,1393.8 1987.0,1399.4 1987.5,1404.7 1988.0,1409.8 1988.5,1414.5 1989.0,1419.0 1989.5,1423.3 1990.0,1427.2 1990.5,1430.9 1991.0,1434.3 1991.5,1437.4 1992.0,1440.2 1992.5,1442.8 1993.0,1445.1 1993.5,1447.1 1994.0,1448.9 1994.5,1450.4 1995.0,1451.7 1995.5,1452.8 1996.0,1453.6 1996.5,1454.2 1997.0,1454.6 1997.5,1454.8 1997.8,1454.8 1998.3,1454.6 1998.8,1453.9 1999.3,1452.8 1999.8,1451.2 2000.3,1449.3 2000.8,1446.9 2001.3,1444.2 2001.8,1441.1 2002.3,1437.7 2002.8,1433.9 2003.3,1429.9 2003.8,1425.5 2004.3,1420.9 2004.8,1416.0 2005.3,1410.8 2005.8,1405.4 2006.3,1399.8 2006.8,1394.0 2007.3,1388.0 2007.8,1381.8 2008.3,1375.5 2008.8,1369.0 2009.3,1362.4 2009.8,1355.7 2010.3,1348.9 2010.8,1342.0 2011.3,1335.1 2011.8,1328.1 2012.3,1321.0 2012.8,1314.0 2013.3,1307.0 2013.8,1299.9 2014.3,1293.0 2014.8,1286.0 2015.3,1279.1 2015.8,1272.3 2016.3,1265.6 2016.8,1259.0 2017.3,1252.6 2017.8,1246.2 2018.3,1239.9 2018.8,1233.3 2019.3,1226.4 2019.8,1218.8 2020.3,1210.4 2020.8,1201.0 2021.3,1189.9 2021.8,1177.0 2022.3,1162.6 2022.8,1147.0 2023.3,1130.4 2023.4,1127.0" fill="none" stroke="#0f0f80" stroke-width="2.1" stroke-linejoin="round"/>
<line x1="1389.7" y1="128.4" x2="1467.3" y2="606.4" stroke="#ff0000" stroke-width="7" stroke-dasharray="21.6 19.7"/>
<circle cx="1386.3" cy="128.4" r="11.2" fill="#ff0000"/>
<circle cx="1472.4" cy="606.4" r="11.2" fill="#ff0000"/>
</g>
<g>
<rect x="203" y="57.05" width="788.1" height="2.7" fill="#262626"/>
<rect x="203" y="684.35" width="788.1" height="2.7" fill="#000"/>
<rect x="203" y="57.05" width="3" height="630" fill="#000"/>
<rect x="988.5" y="57.05" width="2.6" height="630" fill="#555"/>
<rect x="1231.75" y="59.85" width="790.15" height="2.5" fill="#1a1a1a"/>
<rect x="1231.75" y="686.9" width="790.15" height="2.8" fill="#000"/>
<rect x="1231.75" y="59.85" width="4.5" height="629.85" fill="#c4c4c4"/>
<rect x="2018.9" y="59.85" width="3" height="629.85" fill="#a8a8a8"/>
<rect x="208.95" y="886.65" width="787.95" height="2.1" fill="#555"/>
<rect x="208.95" y="1517" width="787.95" height="2.6" fill="#000"/>
<rect x="208.95" y="886.65" width="2.1" height="632.95" fill="#444"/>
<rect x="993.9" y="886.65" width="3" height="632.95" fill="#000"/>
<rect x="1239.35" y="886.95" width="787.95" height="2.1" fill="#000"/>
<rect x="1239.35" y="1514.15" width="787.95" height="2.7" fill="#b5b5b5"/>
<rect x="1239.35" y="886.95" width="2.3" height="629.9" fill="#999"/>
<rect x="2024.7" y="886.95" width="2.6" height="629.9" fill="#606060"/>
<rect x="206" y="212.3" width="8" height="2.6" fill="#222"/>
<rect x="206" y="370.7" width="8" height="2.6" fill="#222"/>
<rect x="206" y="527.7" width="8" height="2.6" fill="#222"/>
<rect x="1236.2" y="214.8" width="8" height="2.6" fill="#222"/>
<rect x="1236.2" y="373.1" width="8" height="2.6" fill="#222"/>
<rect x="1236.2" y="530.1" width="8" height="2.6" fill="#222"/>
<rect x="211" y="1044.6" width="8" height="2.6" fill="#222"/>
<rect x="211" y="1202.1" width="8" height="2.6" fill="#222"/>
<rect x="211" y="1358.2" width="8" height="2.6" fill="#222"/>
<rect x="1241.6" y="1044.6" width="8" height="2.6" fill="#222"/>
<rect x="1241.6" y="1200.1" width="8" height="2.6" fill="#222"/>
<rect x="1241.6" y="1358.2" width="8" height="2.6" fill="#222"/>
<rect x="361.3" y="675.9" width="2.6" height="8.5" fill="#222"/>
<rect x="517.1" y="675.9" width="2.6" height="8.5" fill="#222"/>
<rect x="675" y="675.9" width="2.6" height="8.5" fill="#222"/>
<rect x="833.1" y="675.9" width="2.6" height="8.5" fill="#222"/>
<rect x="1391.7" y="678.4" width="2.6" height="8.5" fill="#222"/>
<rect x="1546.2" y="678.4" width="2.6" height="8.5" fill="#222"/>
<rect x="1705.4" y="678.4" width="2.6" height="8.5" fill="#222"/>
<rect x="1863.7" y="678.4" width="2.6" height="8.5" fill="#222"/>
<rect x="364.5" y="1508.5" width="2.6" height="8.5" fill="#222"/>
<rect x="522.2" y="1508.5" width="2.6" height="8.5" fill="#222"/>
<rect x="679.5" y="1508.5" width="2.6" height="8.5" fill="#222"/>
<rect x="836.7" y="1508.5" width="2.6" height="8.5" fill="#222"/>
<rect x="1394.8" y="1505.7" width="2.6" height="8.5" fill="#222"/>
<rect x="1552.2" y="1505.7" width="2.6" height="8.5" fill="#222"/>
<rect x="1708.7" y="1505.7" width="2.6" height="8.5" fill="#222"/>
<rect x="1865.7" y="1505.7" width="2.6" height="8.5" fill="#222"/>
</g>
</svg></body></html>
